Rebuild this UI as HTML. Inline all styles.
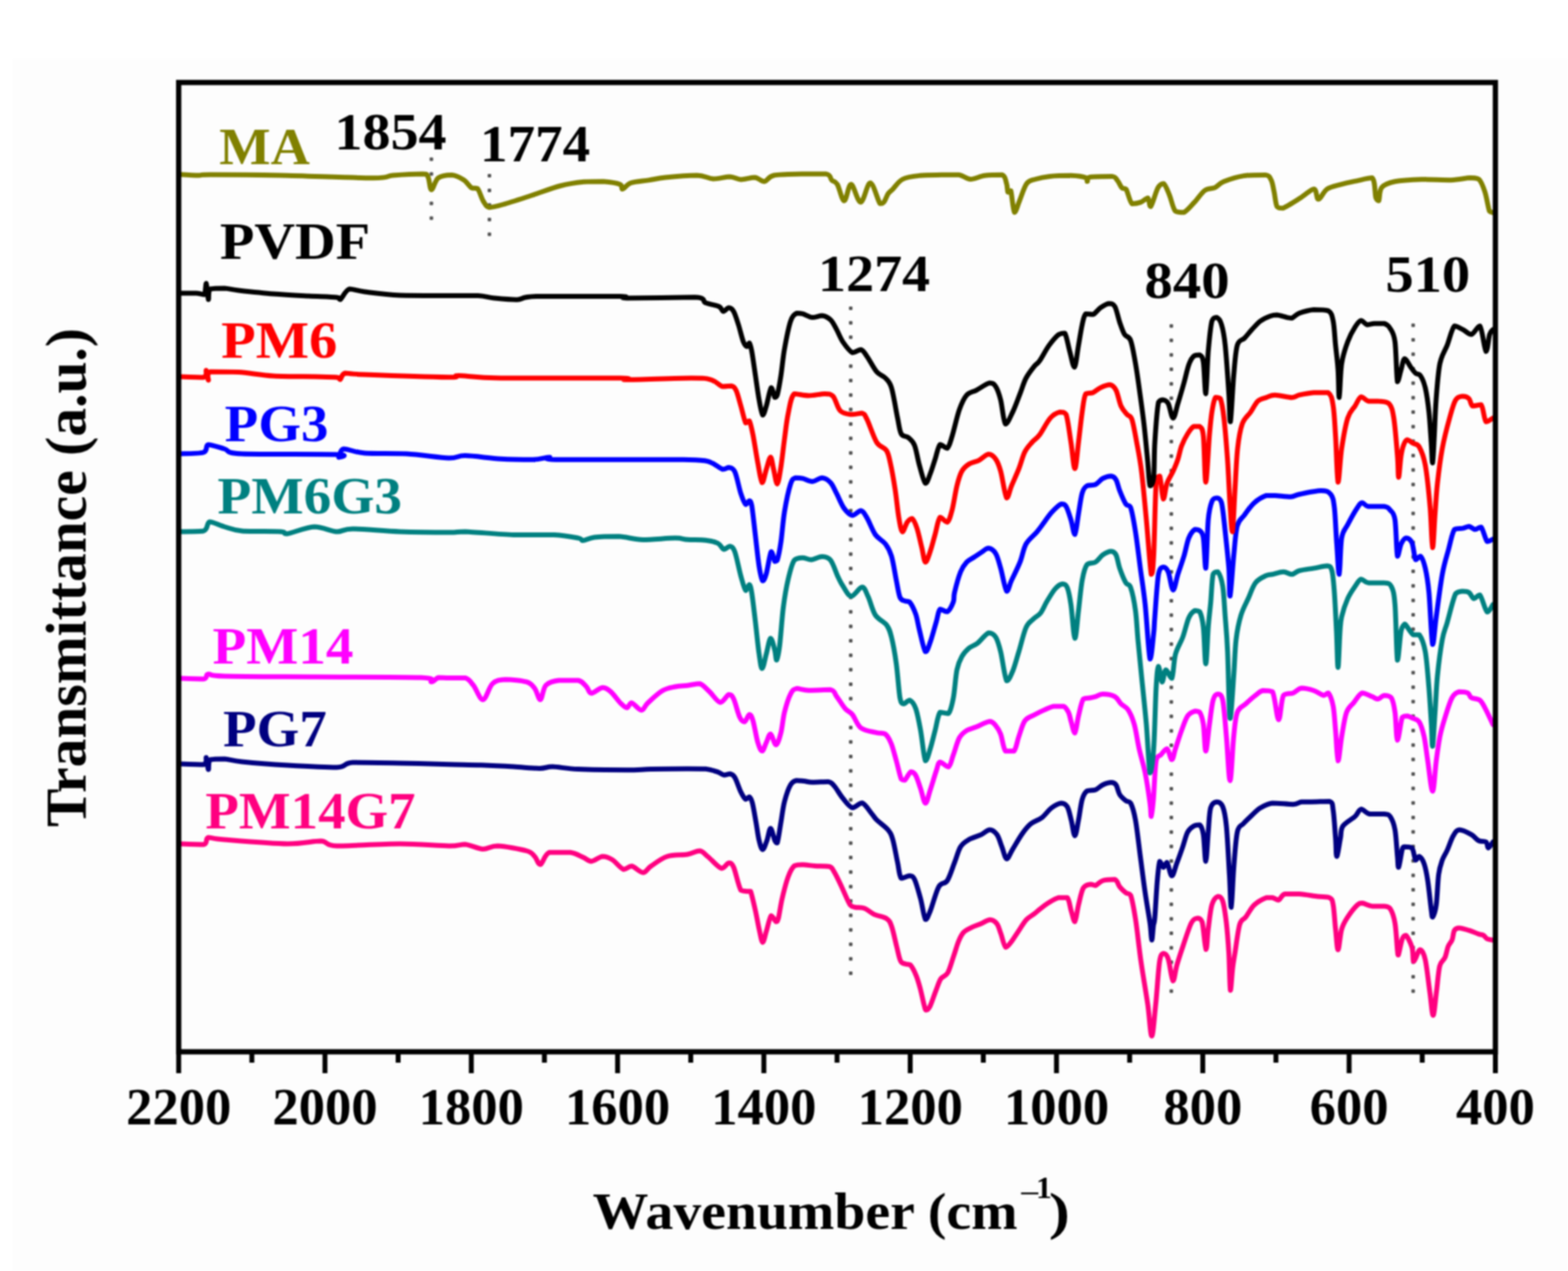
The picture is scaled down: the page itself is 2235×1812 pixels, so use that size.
<!DOCTYPE html>
<html><head><meta charset="utf-8"><style>
html,body{margin:0;padding:0;background:#ffffff;}
svg{display:block;}
#w{filter:blur(1px);width:2235px;height:1812px;}
.t{font-family:"Liberation Serif","Times New Roman",serif;font-weight:bold;font-size:75px;}
.l{font-family:"Liberation Serif","Times New Roman",serif;font-weight:bold;font-size:80px;}
</style></head><body><div id="w">
<svg width="2235" height="1812" viewBox="0 0 2235 1812">
<rect width="2235" height="1812" fill="#fdfdfd"/>
<rect width="2235" height="84" fill="#ffffff"/>
<rect width="18" height="1812" fill="#ffffff"/>
<rect x="612.4" y="224.5" width="5" height="5" rx="1" fill="#505050"/>
<rect x="612.4" y="245.5" width="5" height="5" rx="1" fill="#505050"/>
<rect x="612.4" y="266.5" width="5" height="5" rx="1" fill="#505050"/>
<rect x="612.4" y="287.5" width="5" height="5" rx="1" fill="#505050"/>
<rect x="612.4" y="308.5" width="5" height="5" rx="1" fill="#505050"/>
<rect x="695.1" y="248.0" width="5" height="5" rx="1" fill="#505050"/>
<rect x="695.1" y="268.9" width="5" height="5" rx="1" fill="#505050"/>
<rect x="695.1" y="289.8" width="5" height="5" rx="1" fill="#505050"/>
<rect x="695.1" y="310.6" width="5" height="5" rx="1" fill="#505050"/>
<rect x="695.1" y="331.5" width="5" height="5" rx="1" fill="#505050"/>
<rect x="1210.1" y="437.1" width="5" height="5" rx="1" fill="#505050"/>
<rect x="1210.1" y="457.7" width="5" height="5" rx="1" fill="#505050"/>
<rect x="1210.1" y="478.3" width="5" height="5" rx="1" fill="#505050"/>
<rect x="1210.1" y="498.9" width="5" height="5" rx="1" fill="#505050"/>
<rect x="1210.1" y="519.5" width="5" height="5" rx="1" fill="#505050"/>
<rect x="1210.1" y="540.1" width="5" height="5" rx="1" fill="#505050"/>
<rect x="1210.1" y="560.7" width="5" height="5" rx="1" fill="#505050"/>
<rect x="1210.1" y="581.3" width="5" height="5" rx="1" fill="#505050"/>
<rect x="1210.1" y="602.0" width="5" height="5" rx="1" fill="#505050"/>
<rect x="1210.1" y="622.6" width="5" height="5" rx="1" fill="#505050"/>
<rect x="1210.1" y="643.2" width="5" height="5" rx="1" fill="#505050"/>
<rect x="1210.1" y="663.8" width="5" height="5" rx="1" fill="#505050"/>
<rect x="1210.1" y="684.4" width="5" height="5" rx="1" fill="#505050"/>
<rect x="1210.1" y="705.0" width="5" height="5" rx="1" fill="#505050"/>
<rect x="1210.1" y="725.6" width="5" height="5" rx="1" fill="#505050"/>
<rect x="1210.1" y="746.2" width="5" height="5" rx="1" fill="#505050"/>
<rect x="1210.1" y="766.8" width="5" height="5" rx="1" fill="#505050"/>
<rect x="1210.1" y="787.4" width="5" height="5" rx="1" fill="#505050"/>
<rect x="1210.1" y="808.0" width="5" height="5" rx="1" fill="#505050"/>
<rect x="1210.1" y="828.6" width="5" height="5" rx="1" fill="#505050"/>
<rect x="1210.1" y="849.2" width="5" height="5" rx="1" fill="#505050"/>
<rect x="1210.1" y="869.8" width="5" height="5" rx="1" fill="#505050"/>
<rect x="1210.1" y="890.4" width="5" height="5" rx="1" fill="#505050"/>
<rect x="1210.1" y="911.1" width="5" height="5" rx="1" fill="#505050"/>
<rect x="1210.1" y="931.7" width="5" height="5" rx="1" fill="#505050"/>
<rect x="1210.1" y="952.3" width="5" height="5" rx="1" fill="#505050"/>
<rect x="1210.1" y="972.9" width="5" height="5" rx="1" fill="#505050"/>
<rect x="1210.1" y="993.5" width="5" height="5" rx="1" fill="#505050"/>
<rect x="1210.1" y="1014.1" width="5" height="5" rx="1" fill="#505050"/>
<rect x="1210.1" y="1034.7" width="5" height="5" rx="1" fill="#505050"/>
<rect x="1210.1" y="1055.3" width="5" height="5" rx="1" fill="#505050"/>
<rect x="1210.1" y="1075.9" width="5" height="5" rx="1" fill="#505050"/>
<rect x="1210.1" y="1096.5" width="5" height="5" rx="1" fill="#505050"/>
<rect x="1210.1" y="1117.1" width="5" height="5" rx="1" fill="#505050"/>
<rect x="1210.1" y="1137.7" width="5" height="5" rx="1" fill="#505050"/>
<rect x="1210.1" y="1158.3" width="5" height="5" rx="1" fill="#505050"/>
<rect x="1210.1" y="1178.9" width="5" height="5" rx="1" fill="#505050"/>
<rect x="1210.1" y="1199.5" width="5" height="5" rx="1" fill="#505050"/>
<rect x="1210.1" y="1220.1" width="5" height="5" rx="1" fill="#505050"/>
<rect x="1210.1" y="1240.8" width="5" height="5" rx="1" fill="#505050"/>
<rect x="1210.1" y="1261.4" width="5" height="5" rx="1" fill="#505050"/>
<rect x="1210.1" y="1282.0" width="5" height="5" rx="1" fill="#505050"/>
<rect x="1210.1" y="1302.6" width="5" height="5" rx="1" fill="#505050"/>
<rect x="1210.1" y="1323.2" width="5" height="5" rx="1" fill="#505050"/>
<rect x="1210.1" y="1343.8" width="5" height="5" rx="1" fill="#505050"/>
<rect x="1210.1" y="1364.4" width="5" height="5" rx="1" fill="#505050"/>
<rect x="1210.1" y="1385.0" width="5" height="5" rx="1" fill="#505050"/>
<rect x="1667.1" y="462.2" width="5" height="5" rx="1" fill="#505050"/>
<rect x="1667.1" y="482.8" width="5" height="5" rx="1" fill="#505050"/>
<rect x="1667.1" y="503.4" width="5" height="5" rx="1" fill="#505050"/>
<rect x="1667.1" y="524.0" width="5" height="5" rx="1" fill="#505050"/>
<rect x="1667.1" y="544.7" width="5" height="5" rx="1" fill="#505050"/>
<rect x="1667.1" y="565.3" width="5" height="5" rx="1" fill="#505050"/>
<rect x="1667.1" y="585.9" width="5" height="5" rx="1" fill="#505050"/>
<rect x="1667.1" y="606.5" width="5" height="5" rx="1" fill="#505050"/>
<rect x="1667.1" y="627.1" width="5" height="5" rx="1" fill="#505050"/>
<rect x="1667.1" y="647.7" width="5" height="5" rx="1" fill="#505050"/>
<rect x="1667.1" y="668.4" width="5" height="5" rx="1" fill="#505050"/>
<rect x="1667.1" y="689.0" width="5" height="5" rx="1" fill="#505050"/>
<rect x="1667.1" y="709.6" width="5" height="5" rx="1" fill="#505050"/>
<rect x="1667.1" y="730.2" width="5" height="5" rx="1" fill="#505050"/>
<rect x="1667.1" y="750.8" width="5" height="5" rx="1" fill="#505050"/>
<rect x="1667.1" y="771.4" width="5" height="5" rx="1" fill="#505050"/>
<rect x="1667.1" y="792.0" width="5" height="5" rx="1" fill="#505050"/>
<rect x="1667.1" y="812.7" width="5" height="5" rx="1" fill="#505050"/>
<rect x="1667.1" y="833.3" width="5" height="5" rx="1" fill="#505050"/>
<rect x="1667.1" y="853.9" width="5" height="5" rx="1" fill="#505050"/>
<rect x="1667.1" y="874.5" width="5" height="5" rx="1" fill="#505050"/>
<rect x="1667.1" y="895.1" width="5" height="5" rx="1" fill="#505050"/>
<rect x="1667.1" y="915.7" width="5" height="5" rx="1" fill="#505050"/>
<rect x="1667.1" y="936.4" width="5" height="5" rx="1" fill="#505050"/>
<rect x="1667.1" y="957.0" width="5" height="5" rx="1" fill="#505050"/>
<rect x="1667.1" y="977.6" width="5" height="5" rx="1" fill="#505050"/>
<rect x="1667.1" y="998.2" width="5" height="5" rx="1" fill="#505050"/>
<rect x="1667.1" y="1018.8" width="5" height="5" rx="1" fill="#505050"/>
<rect x="1667.1" y="1039.4" width="5" height="5" rx="1" fill="#505050"/>
<rect x="1667.1" y="1060.0" width="5" height="5" rx="1" fill="#505050"/>
<rect x="1667.1" y="1080.7" width="5" height="5" rx="1" fill="#505050"/>
<rect x="1667.1" y="1101.3" width="5" height="5" rx="1" fill="#505050"/>
<rect x="1667.1" y="1121.9" width="5" height="5" rx="1" fill="#505050"/>
<rect x="1667.1" y="1142.5" width="5" height="5" rx="1" fill="#505050"/>
<rect x="1667.1" y="1163.1" width="5" height="5" rx="1" fill="#505050"/>
<rect x="1667.1" y="1183.7" width="5" height="5" rx="1" fill="#505050"/>
<rect x="1667.1" y="1204.3" width="5" height="5" rx="1" fill="#505050"/>
<rect x="1667.1" y="1225.0" width="5" height="5" rx="1" fill="#505050"/>
<rect x="1667.1" y="1245.6" width="5" height="5" rx="1" fill="#505050"/>
<rect x="1667.1" y="1266.2" width="5" height="5" rx="1" fill="#505050"/>
<rect x="1667.1" y="1286.8" width="5" height="5" rx="1" fill="#505050"/>
<rect x="1667.1" y="1307.4" width="5" height="5" rx="1" fill="#505050"/>
<rect x="1667.1" y="1328.0" width="5" height="5" rx="1" fill="#505050"/>
<rect x="1667.1" y="1348.7" width="5" height="5" rx="1" fill="#505050"/>
<rect x="1667.1" y="1369.3" width="5" height="5" rx="1" fill="#505050"/>
<rect x="1667.1" y="1389.9" width="5" height="5" rx="1" fill="#505050"/>
<rect x="1667.1" y="1410.5" width="5" height="5" rx="1" fill="#505050"/>
<rect x="2011.8" y="461.3" width="5" height="5" rx="1" fill="#505050"/>
<rect x="2011.8" y="481.9" width="5" height="5" rx="1" fill="#505050"/>
<rect x="2011.8" y="502.6" width="5" height="5" rx="1" fill="#505050"/>
<rect x="2011.8" y="523.2" width="5" height="5" rx="1" fill="#505050"/>
<rect x="2011.8" y="543.8" width="5" height="5" rx="1" fill="#505050"/>
<rect x="2011.8" y="564.5" width="5" height="5" rx="1" fill="#505050"/>
<rect x="2011.8" y="585.1" width="5" height="5" rx="1" fill="#505050"/>
<rect x="2011.8" y="605.7" width="5" height="5" rx="1" fill="#505050"/>
<rect x="2011.8" y="626.4" width="5" height="5" rx="1" fill="#505050"/>
<rect x="2011.8" y="647.0" width="5" height="5" rx="1" fill="#505050"/>
<rect x="2011.8" y="667.6" width="5" height="5" rx="1" fill="#505050"/>
<rect x="2011.8" y="688.3" width="5" height="5" rx="1" fill="#505050"/>
<rect x="2011.8" y="708.9" width="5" height="5" rx="1" fill="#505050"/>
<rect x="2011.8" y="729.6" width="5" height="5" rx="1" fill="#505050"/>
<rect x="2011.8" y="750.2" width="5" height="5" rx="1" fill="#505050"/>
<rect x="2011.8" y="770.8" width="5" height="5" rx="1" fill="#505050"/>
<rect x="2011.8" y="791.5" width="5" height="5" rx="1" fill="#505050"/>
<rect x="2011.8" y="812.1" width="5" height="5" rx="1" fill="#505050"/>
<rect x="2011.8" y="832.7" width="5" height="5" rx="1" fill="#505050"/>
<rect x="2011.8" y="853.4" width="5" height="5" rx="1" fill="#505050"/>
<rect x="2011.8" y="874.0" width="5" height="5" rx="1" fill="#505050"/>
<rect x="2011.8" y="894.6" width="5" height="5" rx="1" fill="#505050"/>
<rect x="2011.8" y="915.3" width="5" height="5" rx="1" fill="#505050"/>
<rect x="2011.8" y="935.9" width="5" height="5" rx="1" fill="#505050"/>
<rect x="2011.8" y="956.5" width="5" height="5" rx="1" fill="#505050"/>
<rect x="2011.8" y="977.2" width="5" height="5" rx="1" fill="#505050"/>
<rect x="2011.8" y="997.8" width="5" height="5" rx="1" fill="#505050"/>
<rect x="2011.8" y="1018.4" width="5" height="5" rx="1" fill="#505050"/>
<rect x="2011.8" y="1039.1" width="5" height="5" rx="1" fill="#505050"/>
<rect x="2011.8" y="1059.7" width="5" height="5" rx="1" fill="#505050"/>
<rect x="2011.8" y="1080.3" width="5" height="5" rx="1" fill="#505050"/>
<rect x="2011.8" y="1101.0" width="5" height="5" rx="1" fill="#505050"/>
<rect x="2011.8" y="1121.6" width="5" height="5" rx="1" fill="#505050"/>
<rect x="2011.8" y="1142.2" width="5" height="5" rx="1" fill="#505050"/>
<rect x="2011.8" y="1162.9" width="5" height="5" rx="1" fill="#505050"/>
<rect x="2011.8" y="1183.5" width="5" height="5" rx="1" fill="#505050"/>
<rect x="2011.8" y="1204.2" width="5" height="5" rx="1" fill="#505050"/>
<rect x="2011.8" y="1224.8" width="5" height="5" rx="1" fill="#505050"/>
<rect x="2011.8" y="1245.4" width="5" height="5" rx="1" fill="#505050"/>
<rect x="2011.8" y="1266.1" width="5" height="5" rx="1" fill="#505050"/>
<rect x="2011.8" y="1286.7" width="5" height="5" rx="1" fill="#505050"/>
<rect x="2011.8" y="1307.3" width="5" height="5" rx="1" fill="#505050"/>
<rect x="2011.8" y="1328.0" width="5" height="5" rx="1" fill="#505050"/>
<rect x="2011.8" y="1348.6" width="5" height="5" rx="1" fill="#505050"/>
<rect x="2011.8" y="1369.2" width="5" height="5" rx="1" fill="#505050"/>
<rect x="2011.8" y="1389.9" width="5" height="5" rx="1" fill="#505050"/>
<rect x="2011.8" y="1410.5" width="5" height="5" rx="1" fill="#505050"/>
<path d="M255.0,1203.0C260.8,1203.2 283.0,1204.0 290.0,1204.0C297.0,1202.5 292.0,1195.2 297.0,1194.0C302.0,1194.0 301.2,1195.5 320.0,1197.0C338.8,1198.5 387.2,1202.7 410.0,1203.0C432.8,1203.0 445.3,1199.0 457.0,1199.0C468.7,1199.5 461.2,1205.3 480.0,1206.0C498.8,1206.0 543.3,1203.0 570.0,1203.0C596.7,1203.0 624.5,1205.9 640.0,1206.0C655.5,1206.0 654.9,1203.7 663.0,1203.7C671.1,1204.5 680.7,1210.2 688.4,1210.6C696.1,1210.6 698.7,1206.0 709.1,1206.0C719.5,1206.4 741.8,1210.5 750.6,1213.0C759.4,1215.5 758.8,1217.8 762.1,1221.0C765.4,1224.2 766.7,1232.5 770.2,1232.5C773.7,1231.5 775.8,1218.2 782.9,1215.3C790.0,1215.3 804.8,1215.3 812.8,1215.3C820.8,1216.5 826.2,1220.1 831.2,1222.2C836.2,1224.3 838.2,1228.0 842.8,1228.0C847.4,1227.8 853.9,1221.4 858.9,1221.0C863.9,1221.0 867.7,1222.5 872.7,1225.6C877.7,1228.7 884.2,1237.9 888.8,1239.4C893.4,1239.4 895.8,1234.8 900.4,1234.8C905.0,1235.6 911.9,1244.0 916.5,1244.0C921.1,1244.0 922.2,1238.6 928.0,1234.8C933.8,1231.0 942.3,1223.8 951.0,1221.0C959.7,1218.2 972.3,1219.3 980.0,1218.0C987.7,1216.7 992.4,1213.0 997.3,1213.0C1002.2,1213.6 1004.2,1217.4 1009.4,1221.6C1014.6,1225.8 1023.5,1236.6 1028.4,1238.0C1033.3,1238.0 1035.9,1230.5 1038.8,1230.2C1041.7,1230.2 1042.8,1230.2 1045.7,1236.3C1048.6,1242.8 1052.5,1263.3 1056.0,1269.1C1059.5,1270.8 1064.1,1270.5 1066.4,1270.8C1068.7,1270.8 1068.2,1270.8 1069.9,1270.8C1071.6,1275.4 1074.8,1289.6 1076.8,1298.5C1078.8,1307.4 1080.3,1316.9 1082.0,1324.4C1083.7,1331.9 1085.4,1342.8 1087.1,1343.4C1088.8,1343.4 1090.3,1334.1 1092.3,1327.8C1094.3,1321.5 1096.9,1307.7 1099.2,1305.4C1101.5,1305.4 1104.4,1313.4 1106.1,1314.0C1107.8,1314.0 1108.1,1314.0 1109.6,1308.8C1111.0,1303.3 1112.5,1291.0 1114.8,1281.2C1117.1,1271.4 1120.5,1257.9 1123.4,1250.1C1126.3,1242.3 1128.6,1237.4 1132.1,1234.5C1135.6,1232.8 1139.3,1232.8 1144.2,1232.8C1149.1,1232.8 1155.1,1234.1 1161.4,1234.5C1167.7,1234.9 1177.6,1234.5 1182.2,1235.4C1186.8,1236.9 1186.2,1238.5 1189.1,1243.2C1192.0,1248.0 1195.8,1256.1 1199.5,1263.9C1203.2,1271.7 1208.4,1284.9 1211.6,1289.8C1214.8,1293.3 1215.0,1292.4 1218.5,1293.3C1222.0,1294.2 1227.7,1293.3 1232.3,1295.0C1236.9,1296.7 1240.8,1301.1 1246.1,1303.6C1251.4,1306.1 1259.8,1306.9 1264.0,1309.8C1268.2,1312.7 1268.7,1314.5 1271.0,1321.0C1273.3,1327.5 1275.9,1340.8 1278.0,1349.0C1280.1,1357.2 1281.5,1365.8 1283.6,1370.0C1285.7,1374.2 1288.3,1373.3 1290.6,1374.3C1292.9,1375.2 1295.0,1374.3 1297.6,1375.7C1300.2,1378.5 1303.7,1385.5 1306.0,1391.1C1308.3,1396.7 1309.8,1402.3 1311.7,1409.3C1313.6,1416.3 1315.9,1428.0 1317.3,1433.1C1318.7,1438.2 1318.7,1439.9 1320.1,1440.1C1321.5,1440.1 1323.4,1439.2 1325.7,1434.5C1328.0,1429.8 1331.5,1418.6 1334.1,1412.1C1336.7,1405.6 1338.3,1399.5 1341.1,1395.3C1343.9,1391.1 1347.9,1392.3 1350.9,1386.9C1353.9,1381.5 1356.7,1370.6 1359.3,1363.1C1361.9,1355.6 1364.0,1347.6 1366.3,1342.0C1368.6,1336.4 1370.3,1332.7 1373.3,1329.4C1376.3,1326.1 1380.3,1324.5 1384.5,1322.4C1388.7,1320.3 1394.1,1318.7 1398.5,1316.8C1402.9,1314.9 1407.4,1311.2 1411.1,1311.2C1414.8,1311.2 1418.3,1313.5 1420.9,1316.8C1423.5,1320.1 1424.4,1325.2 1426.5,1330.8C1428.6,1336.4 1430.9,1348.5 1433.5,1350.4C1436.1,1350.4 1439.2,1345.5 1442.0,1342.0C1444.8,1338.5 1446.9,1334.5 1450.4,1329.4C1453.9,1324.3 1459.0,1315.6 1463.0,1311.2C1467.0,1306.8 1470.8,1305.5 1474.2,1302.8C1477.6,1300.1 1479.8,1298.0 1483.3,1295.3C1486.8,1292.6 1491.1,1289.2 1495.4,1286.6C1499.7,1284.0 1504.9,1280.8 1509.2,1279.7C1513.5,1279.7 1518.3,1279.7 1521.3,1279.7C1524.2,1282.9 1525.1,1293.0 1526.9,1298.7C1528.7,1304.4 1530.4,1314.0 1532.1,1314.0C1533.8,1312.6 1535.3,1298.1 1537.3,1290.1C1539.3,1282.1 1541.3,1270.8 1544.2,1265.9C1547.1,1261.0 1551.7,1261.3 1554.6,1260.7C1557.5,1260.7 1558.6,1262.4 1561.5,1262.4C1564.4,1261.5 1567.2,1256.9 1571.8,1255.5C1576.4,1254.1 1585.1,1253.8 1589.1,1253.8C1593.1,1255.2 1593.4,1261.0 1596.0,1264.2C1598.6,1267.4 1602.1,1270.8 1604.7,1272.8C1607.3,1274.8 1609.3,1272.8 1611.6,1276.3C1613.9,1282.5 1616.5,1297.6 1618.5,1310.0C1620.5,1322.4 1622.3,1339.6 1623.7,1350.6C1625.1,1361.6 1625.0,1362.4 1627.1,1376.0C1629.1,1389.6 1633.6,1415.3 1636.0,1432.1C1638.4,1448.9 1639.8,1477.0 1641.7,1477.0C1643.6,1477.0 1645.4,1449.9 1647.3,1432.1C1649.2,1414.3 1651.0,1382.6 1652.9,1370.4C1654.8,1359.2 1656.5,1359.8 1658.5,1359.2C1660.5,1359.2 1663.0,1360.5 1665.2,1367.1C1667.4,1373.6 1669.9,1397.0 1671.9,1398.5C1674.0,1398.5 1675.1,1384.4 1677.5,1376.0C1679.9,1367.6 1683.1,1358.0 1686.5,1348.0C1689.9,1338.0 1694.7,1322.5 1698.0,1316.0C1701.3,1309.5 1704.0,1309.4 1706.6,1309.1C1709.2,1309.1 1711.4,1309.1 1713.5,1314.3C1715.6,1321.7 1717.5,1351.9 1719.0,1353.6C1720.5,1353.6 1720.8,1335.2 1722.2,1324.6C1723.6,1314.0 1725.1,1297.9 1727.4,1290.1C1729.7,1282.3 1733.4,1278.9 1736.0,1278.0C1738.6,1278.0 1740.9,1278.6 1742.9,1284.9C1744.9,1291.2 1746.6,1303.6 1748.1,1316.0C1749.5,1328.4 1750.6,1343.2 1751.6,1359.2C1752.5,1375.2 1752.9,1408.4 1753.8,1411.9C1754.7,1411.9 1755.9,1388.8 1757.0,1380.0C1758.1,1371.2 1758.5,1369.6 1760.2,1359.2C1761.9,1348.8 1764.5,1326.3 1767.1,1317.7C1769.7,1309.1 1772.2,1312.0 1775.7,1307.4C1779.2,1302.8 1782.9,1294.7 1787.8,1290.1C1792.7,1285.5 1800.8,1281.4 1805.1,1279.7C1809.4,1279.7 1810.9,1279.7 1813.8,1279.8C1816.7,1280.4 1819.6,1283.2 1822.5,1283.2C1825.4,1282.3 1826.2,1276.0 1831.1,1274.6C1836.0,1274.6 1844.1,1274.6 1851.9,1274.6C1859.7,1275.2 1870.6,1277.1 1877.8,1278.0C1885.0,1278.9 1891.3,1278.0 1895.1,1279.8C1898.8,1281.8 1898.9,1282.6 1900.3,1290.1C1901.7,1297.6 1902.5,1314.0 1903.7,1324.7C1904.9,1335.4 1905.8,1354.1 1907.2,1354.1C1908.7,1354.1 1910.1,1332.5 1912.4,1324.7C1914.7,1316.9 1917.3,1313.2 1921.0,1307.4C1924.7,1301.6 1931.3,1293.4 1934.8,1290.1C1938.2,1287.6 1938.2,1287.6 1941.7,1287.6C1945.2,1287.9 1950.4,1291.2 1955.6,1291.9C1960.8,1291.9 1968.6,1291.9 1972.9,1291.9C1977.2,1292.5 1978.9,1291.9 1981.5,1295.3C1984.1,1299.3 1986.7,1306.1 1988.4,1316.1C1990.1,1326.0 1991.1,1347.4 1991.9,1355.0C1992.7,1361.5 1992.1,1361.5 1993.2,1361.5C1994.3,1358.8 1997.0,1343.2 1998.8,1338.5C2000.6,1333.8 2001.7,1333.4 2004.0,1333.4C2006.3,1335.4 2010.8,1344.4 2012.6,1350.6C2014.4,1356.8 2013.8,1368.2 2014.7,1370.8C2015.6,1370.8 2016.2,1369.0 2017.8,1366.2C2019.4,1363.4 2021.8,1354.0 2024.1,1354.0C2026.4,1354.3 2029.2,1357.9 2031.5,1368.0C2033.8,1378.1 2036.2,1401.5 2038.1,1414.7C2040.0,1427.9 2041.2,1447.4 2042.8,1447.4C2044.3,1447.4 2045.9,1426.4 2047.4,1414.7C2049.0,1403.0 2050.1,1385.7 2052.1,1377.4C2054.1,1369.2 2057.6,1369.9 2059.6,1365.2C2061.6,1360.5 2062.5,1353.5 2064.2,1349.3C2065.9,1345.1 2068.3,1343.8 2069.8,1340.0C2071.3,1336.2 2071.4,1329.2 2073.1,1326.4C2074.8,1323.6 2076.5,1323.0 2080.0,1323.0C2083.5,1323.0 2089.3,1325.0 2093.9,1326.4C2098.5,1327.8 2104.2,1330.4 2107.7,1331.6C2111.1,1332.8 2112.6,1332.2 2114.6,1333.4C2116.6,1334.6 2117.6,1337.3 2119.8,1338.5C2122.0,1339.7 2126.6,1340.0 2128.0,1340.3" fill="none" stroke="#ff0080" stroke-width="7" stroke-linejoin="round" stroke-linecap="round"/>
<path d="M255.0,1089.0C260.8,1089.2 283.5,1090.0 290.0,1090.0C296.5,1088.5 292.8,1080.0 294.0,1080.0C295.2,1081.2 296.0,1096.5 297.0,1097.0C298.0,1097.0 296.2,1085.5 300.0,1083.0C303.8,1082.0 312.5,1082.0 320.0,1082.0C327.5,1082.5 330.0,1084.5 345.0,1086.0C360.0,1087.5 387.5,1089.7 410.0,1091.0C432.5,1092.3 464.5,1094.0 480.0,1094.0C495.5,1093.3 488.0,1088.0 503.0,1087.0C518.0,1087.0 547.2,1087.5 570.0,1088.0C592.8,1088.5 620.6,1089.2 640.0,1089.7C659.4,1090.2 670.7,1090.2 686.1,1090.8C701.5,1091.4 718.4,1092.3 732.2,1093.1C746.0,1093.9 759.8,1095.4 769.0,1095.4C778.2,1095.4 778.3,1093.1 787.5,1093.1C796.7,1093.3 806.6,1095.8 824.3,1096.6C842.0,1097.4 876.2,1097.7 893.5,1097.7C910.8,1097.7 913.6,1096.9 928.0,1096.6C942.4,1096.3 967.0,1096.0 980.0,1096.0C993.0,1096.0 998.7,1096.0 1005.9,1096.3C1013.1,1097.1 1018.9,1099.2 1023.2,1100.6C1027.5,1102.0 1028.9,1104.5 1031.8,1104.9C1034.7,1104.9 1037.9,1103.2 1040.5,1103.2C1043.1,1103.8 1044.8,1104.1 1047.4,1108.4C1050.0,1112.7 1053.4,1123.9 1056.0,1129.1C1058.6,1134.3 1060.9,1138.3 1062.9,1139.5C1064.9,1139.5 1066.5,1136.0 1068.1,1136.0C1069.7,1136.9 1070.8,1138.7 1072.4,1144.7C1074.0,1150.8 1076.0,1163.4 1077.6,1172.3C1079.2,1181.2 1080.4,1191.7 1082.0,1198.2C1083.6,1204.7 1085.2,1211.2 1087.1,1211.2C1089.0,1211.2 1091.3,1203.2 1093.2,1198.2C1095.1,1193.2 1096.5,1181.0 1098.4,1181.0C1100.3,1181.0 1102.8,1194.8 1104.4,1198.2C1106.0,1201.7 1106.5,1201.7 1107.9,1201.7C1109.4,1197.4 1111.4,1182.1 1113.1,1172.3C1114.8,1162.5 1115.9,1151.8 1118.2,1142.9C1120.5,1134.0 1124.0,1123.8 1126.9,1118.8C1129.8,1113.8 1132.3,1113.6 1135.5,1112.7C1138.7,1112.7 1142.2,1113.2 1145.9,1113.6C1149.7,1114.0 1152.2,1115.2 1158.0,1115.3C1163.8,1115.3 1175.2,1114.4 1180.4,1114.4C1185.6,1115.3 1185.6,1116.6 1189.1,1120.5C1192.6,1124.4 1196.9,1132.6 1201.2,1137.8C1205.5,1143.0 1210.4,1150.4 1215.0,1151.6C1219.6,1151.6 1224.2,1144.7 1228.8,1144.7C1233.4,1146.1 1239.2,1156.2 1242.7,1160.2C1246.2,1164.2 1245.8,1165.1 1249.6,1168.9C1253.4,1172.7 1261.8,1178.2 1265.6,1182.9C1269.4,1187.6 1270.2,1189.0 1272.5,1196.8C1274.8,1204.6 1277.4,1220.4 1279.4,1229.6C1281.4,1238.8 1281.7,1248.9 1284.6,1252.1C1287.5,1252.1 1293.5,1248.6 1296.7,1248.6C1299.9,1248.9 1301.0,1248.6 1303.6,1253.8C1306.2,1259.3 1309.6,1271.9 1312.2,1281.4C1314.8,1290.9 1316.8,1307.9 1319.1,1310.8C1321.4,1310.8 1322.8,1306.5 1326.0,1298.7C1329.2,1290.9 1334.1,1271.4 1338.1,1264.2C1342.1,1257.0 1346.5,1261.3 1350.2,1255.5C1354.0,1249.7 1357.4,1237.7 1360.6,1229.6C1363.8,1221.5 1365.8,1212.6 1369.2,1207.1C1372.7,1201.6 1376.4,1199.7 1381.3,1196.8C1386.2,1193.9 1393.7,1192.2 1398.6,1189.9C1403.5,1187.6 1407.0,1182.9 1410.7,1182.9C1414.5,1182.9 1418.2,1185.9 1421.1,1189.9C1424.0,1193.9 1425.7,1201.3 1428.0,1207.1C1430.3,1212.8 1432.3,1223.8 1434.9,1224.4C1437.5,1224.4 1439.8,1216.6 1443.5,1210.6C1447.2,1204.5 1453.1,1194.1 1457.4,1188.1C1461.7,1182.0 1464.9,1178.0 1469.5,1174.3C1474.1,1170.6 1480.1,1169.5 1485.0,1165.7C1489.9,1162.0 1494.2,1155.3 1498.8,1151.8C1503.4,1148.3 1509.0,1145.2 1512.7,1144.9C1516.5,1144.9 1518.9,1146.1 1521.3,1150.1C1523.7,1154.1 1525.1,1162.2 1526.9,1169.1C1528.7,1176.0 1530.4,1191.6 1532.1,1191.6C1533.8,1191.6 1535.6,1177.8 1537.3,1169.1C1539.0,1160.4 1540.5,1146.6 1542.5,1139.7C1544.5,1132.8 1546.2,1129.9 1549.4,1127.6C1552.6,1125.9 1557.8,1127.3 1561.5,1125.9C1565.2,1124.5 1568.1,1120.7 1571.8,1119.0C1575.5,1117.3 1580.7,1115.6 1583.9,1115.6C1587.1,1115.6 1588.8,1116.1 1590.8,1119.0C1592.8,1121.9 1593.7,1129.0 1596.0,1132.8C1598.3,1136.5 1602.1,1139.5 1604.7,1141.5C1607.3,1143.5 1609.3,1141.5 1611.6,1144.9C1613.9,1149.5 1616.2,1156.4 1618.5,1169.1C1620.8,1181.8 1623.1,1203.7 1625.4,1221.0C1627.7,1238.3 1630.0,1257.0 1632.3,1272.8C1634.6,1288.6 1637.6,1304.8 1639.2,1316.0C1640.8,1327.2 1640.9,1339.3 1641.7,1340.0C1642.5,1340.0 1643.3,1325.4 1644.0,1320.0C1644.7,1314.6 1645.2,1318.2 1646.1,1307.4C1647.0,1296.7 1648.4,1268.8 1649.6,1255.5C1650.8,1242.2 1651.7,1231.1 1653.1,1227.9C1654.5,1227.9 1656.5,1236.2 1658.2,1236.5C1659.9,1236.5 1661.4,1229.6 1663.4,1229.6C1665.4,1231.6 1668.0,1248.3 1670.3,1248.6C1672.6,1248.6 1674.6,1238.2 1677.2,1231.3C1679.8,1224.4 1683.3,1214.6 1685.9,1207.1C1688.5,1199.6 1690.2,1191.3 1692.8,1186.4C1695.4,1181.5 1698.5,1179.5 1701.4,1177.8C1704.3,1176.1 1707.8,1176.0 1710.1,1176.0C1712.4,1178.0 1713.9,1181.2 1715.3,1189.9C1716.7,1198.6 1717.5,1227.9 1718.7,1227.9C1719.9,1227.3 1721.1,1199.1 1722.2,1186.4C1723.3,1173.7 1723.6,1159.0 1725.6,1151.8C1727.6,1144.6 1731.4,1143.5 1734.3,1143.2C1737.2,1143.2 1740.6,1144.3 1742.9,1150.1C1745.2,1155.9 1746.5,1161.7 1748.1,1177.8C1749.7,1193.9 1751.2,1227.6 1752.4,1246.9C1753.6,1266.2 1754.0,1293.5 1755.0,1293.5C1756.0,1292.0 1757.1,1256.0 1758.5,1238.2C1759.9,1220.4 1761.3,1197.1 1763.6,1186.4C1765.9,1175.8 1769.1,1178.0 1772.3,1174.3C1775.5,1170.5 1778.7,1167.7 1782.7,1163.9C1786.7,1160.2 1791.3,1155.0 1796.5,1151.8C1801.7,1148.6 1806.0,1145.8 1813.8,1144.9C1821.6,1144.9 1836.3,1146.7 1843.2,1146.7C1850.1,1146.4 1851.0,1143.8 1855.3,1143.2C1859.6,1143.2 1862.5,1143.2 1869.1,1143.2C1875.7,1143.1 1889.9,1142.4 1895.1,1142.4C1900.3,1144.4 1898.9,1146.5 1900.3,1155.3C1901.7,1164.1 1902.8,1184.1 1903.7,1195.1C1904.6,1206.0 1904.2,1221.0 1905.4,1221.0C1906.6,1221.0 1909.1,1202.3 1910.6,1195.1C1912.0,1187.9 1910.6,1183.0 1914.1,1177.8C1917.6,1172.6 1927.1,1168.0 1931.4,1164.0C1935.7,1160.0 1936.5,1154.2 1940.0,1153.6C1943.5,1153.6 1946.6,1159.3 1952.1,1160.5C1957.6,1160.5 1968.0,1160.5 1972.9,1160.5C1977.8,1161.1 1978.9,1160.5 1981.5,1164.0C1984.1,1167.8 1986.7,1173.5 1988.4,1183.0C1990.1,1192.5 1991.0,1212.1 1991.9,1221.0C1992.8,1229.9 1992.4,1236.6 1993.6,1236.6C1994.8,1234.9 1997.4,1215.5 1998.8,1210.6C2000.2,1207.2 1999.9,1207.5 2002.2,1207.2C2004.5,1207.2 2010.0,1207.2 2012.6,1208.9C2015.2,1212.1 2016.1,1224.2 2017.8,1226.2C2019.5,1226.2 2021.0,1221.0 2023.0,1221.0C2025.0,1221.9 2027.9,1225.6 2029.9,1231.4C2031.9,1237.2 2033.4,1244.4 2035.1,1255.6C2036.8,1266.8 2039.1,1290.2 2040.3,1298.8C2041.5,1307.4 2040.8,1307.4 2042.0,1307.4C2043.2,1306.0 2045.8,1300.2 2047.2,1290.1C2048.6,1280.0 2049.2,1257.6 2050.6,1246.9C2052.0,1236.2 2053.8,1232.0 2055.8,1226.2C2057.8,1220.5 2060.1,1218.2 2062.7,1212.4C2065.3,1206.6 2068.5,1196.5 2071.4,1191.6C2074.3,1186.7 2075.7,1183.3 2080.0,1183.0C2084.3,1183.0 2092.7,1187.3 2097.3,1189.9C2101.9,1192.5 2104.2,1196.8 2107.7,1198.5C2111.2,1200.2 2115.8,1198.6 2118.1,1200.3C2120.4,1202.0 2119.8,1208.9 2121.5,1208.9C2123.2,1208.9 2126.9,1201.7 2128.0,1200.3" fill="none" stroke="#000080" stroke-width="7" stroke-linejoin="round" stroke-linecap="round"/>
<path d="M255.0,967.0C260.8,967.2 283.0,968.0 290.0,968.0C297.0,967.0 292.0,961.7 297.0,961.0C302.0,961.0 294.5,963.3 320.0,964.0C345.5,964.7 403.3,964.7 450.0,965.0C496.7,965.3 572.5,965.0 600.0,966.0C627.5,967.2 610.8,972.0 615.0,972.0C619.2,972.0 620.8,966.9 625.0,966.0C629.2,966.0 633.7,966.3 640.0,966.4C646.3,966.4 657.2,966.4 663.0,966.4C668.8,968.1 670.4,971.6 674.6,976.8C678.8,982.0 683.8,997.5 688.4,997.5C693.0,997.1 696.8,979.3 702.2,974.5C707.6,969.7 712.5,969.1 720.6,968.7C728.7,968.7 743.7,970.1 750.6,972.2C757.5,974.3 758.8,977.2 762.1,981.4C765.4,985.6 767.5,997.5 770.2,997.5C772.9,996.7 773.8,981.4 778.2,976.8C782.6,972.2 789.0,971.1 796.7,970.0C804.4,970.0 817.8,970.0 824.3,970.0C830.8,971.5 832.8,976.0 835.9,979.0C839.0,982.0 839.0,988.1 842.8,988.3C846.6,988.3 854.3,980.6 858.9,980.2C863.5,980.2 866.2,982.4 870.4,986.0C874.6,989.6 880.4,998.3 884.2,1002.1C888.1,1005.9 890.8,1009.0 893.5,1009.0C896.2,1009.0 896.9,1002.1 900.4,1002.1C903.9,1002.7 910.4,1012.5 914.2,1012.5C918.0,1012.5 918.4,1006.7 923.4,1002.1C928.4,997.5 937.6,988.6 944.1,984.8C950.6,980.9 956.6,980.3 962.6,979.0C968.6,977.7 974.2,977.9 980.0,977.2C985.8,976.5 992.1,974.7 997.3,974.7C1002.5,976.2 1006.2,981.5 1011.1,985.9C1016.0,990.3 1022.1,1000.7 1026.7,1001.4C1031.3,1001.4 1035.6,991.1 1038.8,990.2C1042.0,990.2 1043.1,991.0 1045.7,996.3C1048.3,1001.6 1051.7,1016.7 1054.3,1022.2C1056.9,1027.7 1058.9,1029.1 1061.2,1029.1C1063.5,1028.5 1066.1,1019.0 1068.1,1018.7C1070.1,1018.7 1071.3,1020.8 1073.3,1027.4C1075.3,1034.0 1078.0,1051.3 1080.2,1058.5C1082.4,1065.7 1084.3,1070.6 1086.3,1070.6C1088.3,1070.6 1090.3,1062.5 1092.3,1058.5C1094.3,1054.5 1096.1,1046.4 1098.4,1046.4C1100.7,1047.0 1103.6,1061.9 1106.1,1061.9C1108.5,1061.6 1111.1,1052.4 1113.1,1044.6C1115.1,1036.8 1115.9,1024.5 1118.2,1015.3C1120.5,1006.1 1124.0,994.9 1126.9,989.3C1129.8,983.7 1131.2,982.5 1135.5,981.6C1139.8,981.6 1144.7,983.9 1152.8,984.2C1160.9,984.2 1177.3,983.3 1183.9,983.3C1190.5,984.7 1189.0,988.3 1192.5,992.8C1196.0,997.3 1200.8,1005.8 1204.6,1010.1C1208.3,1014.4 1211.2,1014.1 1215.0,1018.7C1218.8,1023.3 1221.3,1033.4 1227.1,1037.7C1232.9,1042.0 1243.8,1043.1 1249.6,1044.6C1255.4,1046.0 1258.2,1044.6 1261.7,1046.4C1265.2,1049.0 1267.7,1053.6 1270.3,1060.0C1272.9,1066.4 1275.2,1076.2 1277.6,1084.6C1280.0,1093.0 1282.6,1106.0 1284.6,1110.6C1286.6,1112.3 1287.4,1112.3 1289.7,1112.3C1292.0,1110.6 1295.8,1101.3 1298.4,1100.2C1301.0,1100.2 1303.0,1101.4 1305.3,1105.4C1307.6,1109.4 1309.9,1117.8 1312.2,1124.4C1314.5,1131.0 1316.8,1144.7 1319.1,1145.0C1321.4,1145.0 1323.4,1133.8 1326.0,1126.1C1328.6,1118.3 1332.4,1105.1 1334.7,1098.5C1337.0,1091.9 1337.0,1087.3 1339.9,1086.4C1342.8,1086.4 1348.8,1093.3 1352.0,1093.3C1355.2,1091.6 1356.3,1082.9 1358.9,1076.0C1361.5,1069.1 1364.3,1057.6 1367.5,1051.8C1370.7,1046.0 1373.9,1044.0 1377.9,1041.4C1381.9,1038.8 1386.2,1038.5 1391.7,1036.3C1397.2,1034.1 1406.1,1028.8 1410.7,1028.5C1415.3,1028.5 1416.7,1031.5 1419.3,1034.5C1421.9,1037.5 1424.0,1040.5 1426.3,1046.6C1428.6,1052.6 1430.0,1066.8 1433.2,1070.8C1436.4,1070.8 1442.1,1070.8 1445.3,1070.8C1448.5,1067.3 1449.6,1057.3 1452.2,1050.1C1454.8,1042.9 1457.1,1032.8 1460.8,1027.6C1464.5,1022.4 1470.0,1021.6 1474.6,1019.0C1479.2,1016.4 1483.9,1014.1 1488.5,1012.1C1493.1,1010.1 1497.7,1007.8 1502.3,1006.9C1506.9,1006.9 1512.6,1006.9 1516.1,1006.9C1519.5,1008.3 1521.2,1011.8 1523.0,1015.5C1524.8,1019.2 1525.4,1024.4 1526.9,1029.3C1528.4,1034.2 1530.4,1045.0 1532.1,1045.0C1533.8,1043.6 1535.3,1028.8 1537.3,1020.7C1539.3,1012.6 1541.3,1000.8 1544.2,996.5C1547.1,994.8 1551.7,995.4 1554.6,994.8C1557.5,994.2 1558.6,994.0 1561.5,993.1C1564.4,992.2 1567.2,989.6 1571.8,989.6C1576.4,989.6 1584.8,990.8 1589.1,993.1C1593.4,995.4 1594.6,1000.2 1597.8,1003.4C1601.0,1006.6 1604.9,1007.2 1608.1,1012.1C1611.3,1017.0 1614.2,1023.6 1616.8,1032.8C1619.4,1042.0 1621.1,1055.9 1623.7,1067.4C1626.3,1078.9 1629.7,1089.0 1632.3,1101.9C1634.9,1114.9 1637.8,1134.8 1639.2,1145.1C1640.7,1155.4 1640.2,1164.0 1641.0,1164.0C1641.8,1163.2 1642.8,1153.2 1644.0,1140.0C1645.2,1126.8 1646.1,1095.3 1647.9,1084.6C1649.7,1076.0 1652.2,1078.9 1654.8,1076.0C1657.4,1073.1 1660.8,1067.4 1663.4,1067.4C1666.0,1068.6 1668.3,1082.9 1670.3,1082.9C1672.3,1082.9 1673.2,1074.3 1675.5,1067.4C1677.8,1060.5 1681.3,1049.2 1684.2,1041.4C1687.1,1033.6 1689.6,1025.3 1692.8,1020.7C1696.0,1016.1 1700.3,1014.7 1703.2,1013.8C1706.1,1013.8 1708.1,1013.8 1710.1,1015.5C1712.1,1018.7 1713.9,1023.6 1715.3,1032.8C1716.7,1042.0 1717.3,1070.8 1718.7,1070.8C1720.1,1070.8 1722.2,1044.9 1723.9,1032.8C1725.6,1020.7 1727.1,1005.4 1729.1,998.2C1731.1,991.0 1733.7,989.6 1736.0,989.6C1738.3,989.6 1740.9,989.6 1742.9,998.2C1744.9,1008.3 1746.4,1031.0 1748.1,1050.1C1749.8,1069.2 1751.6,1113.0 1753.3,1113.0C1755.0,1113.0 1756.8,1066.3 1758.5,1050.1C1760.2,1033.8 1760.7,1023.3 1763.6,1015.5C1766.5,1007.7 1771.4,1007.4 1775.7,1003.4C1780.0,999.4 1785.5,994.4 1789.6,991.3C1793.6,988.1 1796.0,985.4 1800.0,984.5C1804.0,984.5 1810.0,984.5 1813.8,986.2C1817.5,993.1 1819.9,1025.1 1822.5,1026.0C1825.1,1026.0 1826.0,997.8 1829.4,991.4C1832.9,987.9 1838.9,989.6 1843.2,987.9C1847.5,986.2 1850.4,981.6 1855.3,981.0C1860.2,981.0 1867.4,982.8 1872.6,984.5C1877.8,986.2 1883.0,990.8 1886.4,991.4C1889.9,991.4 1891.0,987.9 1893.3,987.9C1895.6,990.5 1898.6,998.0 1900.3,1006.9C1902.0,1015.8 1902.5,1028.5 1903.7,1041.5C1904.9,1054.5 1905.8,1083.3 1907.2,1084.7C1908.7,1084.7 1910.4,1061.6 1912.4,1050.1C1914.4,1038.6 1916.4,1023.7 1919.3,1015.6C1922.2,1007.5 1925.9,1006.3 1929.6,1001.7C1933.3,997.1 1937.4,989.3 1941.7,987.9C1946.0,987.9 1951.8,991.6 1955.6,993.1C1959.3,994.6 1961.3,996.6 1964.2,996.6C1967.1,996.3 1969.7,991.7 1972.9,991.4C1976.1,991.4 1980.6,991.4 1983.2,994.8C1985.8,998.8 1987.0,1005.5 1988.4,1015.6C1989.9,1025.7 1990.2,1054.1 1991.9,1055.3C1993.6,1055.3 1996.5,1028.2 1998.8,1022.5C2001.1,1020.8 2003.1,1020.8 2005.7,1020.8C2008.3,1021.1 2011.4,1022.8 2014.3,1024.2C2017.2,1025.6 2020.4,1025.1 2023.0,1029.4C2025.6,1033.7 2027.9,1040.9 2029.9,1050.1C2031.9,1059.3 2033.1,1071.7 2035.1,1084.7C2037.1,1097.7 2040.0,1128.0 2042.0,1128.0C2044.0,1128.0 2045.5,1097.7 2047.2,1084.7C2048.9,1071.7 2050.4,1060.2 2052.4,1050.1C2054.4,1040.0 2056.4,1033.4 2059.3,1024.2C2062.2,1015.0 2066.2,1001.1 2069.7,994.8C2073.1,988.5 2076.3,987.4 2080.0,986.2C2083.7,986.2 2089.2,986.5 2092.1,987.9C2095.0,989.3 2094.4,993.1 2097.3,994.8C2100.2,996.5 2105.9,995.4 2109.4,998.3C2112.9,1001.2 2115.0,1006.3 2118.1,1012.1C2121.2,1017.9 2126.3,1029.5 2128.0,1033.0" fill="none" stroke="#ff00ff" stroke-width="7" stroke-linejoin="round" stroke-linecap="round"/>
<path d="M255.0,758.0C260.8,757.8 282.7,758.0 290.0,757.0C297.3,754.7 294.0,745.0 299.0,744.0C304.0,744.0 312.3,748.8 320.0,751.0C327.7,753.2 331.7,755.8 345.0,757.0C358.3,758.0 389.3,757.3 400.0,758.0C410.7,758.7 401.0,761.0 409.0,761.0C417.0,759.8 436.2,751.5 448.0,751.0C459.8,751.0 470.8,757.5 480.0,758.0C489.2,758.0 488.0,754.0 503.0,754.0C518.0,754.0 547.2,757.2 570.0,758.0C592.8,758.8 624.5,759.0 640.0,759.0C655.5,759.0 647.7,757.9 663.0,757.9C678.3,758.5 710.9,761.7 732.0,762.5C753.1,762.5 774.4,762.5 789.8,762.5C805.2,763.3 817.4,765.8 824.3,767.1C831.2,768.5 827.4,770.6 831.2,770.6C835.1,770.4 838.9,767.0 847.4,766.0C855.9,765.0 870.5,764.8 882.0,764.8C893.5,765.4 903.1,769.0 916.5,769.4C929.9,769.4 952.0,767.1 962.6,767.1C973.2,767.1 972.8,768.8 980.0,769.3C987.2,769.8 998.7,769.3 1005.9,770.2C1013.1,771.1 1018.9,772.3 1023.2,774.5C1027.5,776.7 1028.9,782.5 1031.8,783.2C1034.7,783.2 1037.9,778.8 1040.5,778.8C1043.1,779.4 1044.8,779.5 1047.4,786.6C1050.0,793.7 1053.4,812.0 1056.0,821.2C1058.6,830.4 1060.9,839.9 1062.9,841.9C1064.9,841.9 1066.6,833.5 1068.1,833.5C1069.5,834.1 1070.1,836.7 1071.6,845.6C1073.0,854.5 1075.1,872.5 1076.8,887.0C1078.5,901.5 1080.4,921.3 1082.0,932.3C1083.6,943.3 1084.6,953.1 1086.3,953.1C1088.0,953.1 1090.3,939.5 1092.3,932.3C1094.3,925.1 1096.4,910.8 1098.4,909.9C1100.4,909.9 1103.0,921.9 1104.4,927.1C1105.8,932.3 1105.8,941.0 1107.0,941.0C1108.2,939.9 1109.7,932.7 1111.3,920.2C1112.9,907.7 1114.5,881.7 1116.5,866.0C1118.5,850.3 1120.8,837.2 1123.4,826.0C1126.0,814.8 1128.6,803.8 1132.1,798.7C1135.6,795.3 1140.2,795.4 1144.2,795.3C1148.2,795.3 1151.7,797.9 1156.3,797.9C1160.9,797.6 1167.2,793.5 1171.8,793.5C1176.4,793.6 1180.2,794.0 1183.9,798.7C1187.7,803.5 1191.4,816.0 1194.3,822.0C1197.2,828.0 1198.0,830.3 1201.2,835.0C1204.4,839.7 1208.7,849.7 1213.3,850.0C1217.9,850.0 1224.8,837.0 1228.8,837.0C1232.8,837.1 1234.3,844.1 1237.5,850.8C1240.7,857.5 1243.4,870.3 1247.8,877.0C1252.2,883.7 1260.0,885.9 1263.8,891.1C1267.6,896.3 1268.4,899.2 1270.7,908.4C1273.0,917.6 1275.6,932.0 1277.6,946.4C1279.6,960.8 1281.1,985.3 1282.8,994.8C1284.5,1003.4 1285.7,1002.8 1288.0,1003.4C1290.3,1003.4 1293.8,998.2 1296.7,998.2C1299.6,999.4 1302.7,1003.1 1305.3,1010.3C1307.9,1017.5 1309.9,1029.0 1312.2,1041.4C1314.5,1053.8 1316.8,1080.3 1319.1,1084.6C1321.4,1084.6 1323.7,1074.6 1326.0,1067.4C1328.3,1060.2 1330.6,1050.1 1332.9,1041.4C1335.2,1032.8 1336.7,1019.5 1339.9,1015.5C1343.1,1015.5 1348.8,1017.2 1352.0,1017.2C1355.2,1013.8 1356.9,1005.2 1358.9,994.8C1360.9,984.4 1362.0,964.8 1364.0,955.0C1366.0,945.2 1368.1,941.2 1371.0,936.0C1373.9,930.8 1377.6,927.1 1381.3,923.9C1385.0,920.7 1388.8,920.6 1393.4,917.0C1398.0,913.4 1404.7,903.7 1409.0,902.3C1413.3,902.3 1416.4,903.9 1419.3,908.4C1422.2,912.9 1423.7,918.7 1426.3,929.1C1428.9,939.5 1432.0,966.0 1434.9,970.6C1437.8,970.6 1440.6,963.7 1443.5,956.8C1446.4,949.9 1449.0,939.5 1452.2,929.1C1455.4,918.7 1459.0,902.4 1462.5,894.6C1466.0,886.8 1469.4,886.0 1472.9,882.5C1476.4,879.0 1480.1,877.9 1483.3,873.8C1486.5,869.7 1488.5,863.7 1491.9,858.0C1495.4,852.3 1500.2,843.8 1504.0,839.5C1507.8,835.2 1511.5,832.8 1514.4,832.5C1517.3,832.5 1519.3,832.8 1521.3,837.7C1523.3,842.6 1524.7,849.9 1526.5,861.9C1528.3,873.9 1530.3,908.5 1532.1,910.0C1533.9,910.0 1535.6,884.4 1537.3,870.6C1539.0,856.8 1540.5,838.4 1542.5,827.4C1544.5,816.4 1546.2,809.2 1549.4,804.9C1552.6,801.4 1557.8,803.7 1561.5,801.4C1565.2,799.1 1568.1,793.7 1571.8,791.1C1575.5,788.5 1580.7,785.9 1583.9,785.9C1587.1,785.9 1588.8,787.1 1590.8,791.1C1592.8,795.1 1593.7,803.5 1596.0,810.1C1598.3,816.7 1602.1,826.2 1604.7,830.8C1607.3,835.4 1609.3,831.1 1611.6,837.7C1613.9,844.3 1616.8,858.2 1618.5,870.6C1620.2,883.0 1620.6,896.3 1622.0,911.8C1623.4,927.3 1625.1,943.5 1627.1,963.7C1629.1,983.9 1632.0,1009.8 1634.0,1032.8C1636.0,1055.8 1637.5,1096.1 1639.2,1101.9C1640.9,1101.9 1643.0,1087.6 1644.4,1067.4C1645.9,1047.2 1646.8,1000.6 1647.9,981.0C1649.1,961.4 1649.9,951.4 1651.3,949.9C1652.7,949.9 1654.8,971.4 1656.5,972.3C1658.2,972.3 1659.4,955.9 1661.7,955.0C1664.0,955.0 1668.0,967.1 1670.3,967.1C1672.6,963.4 1672.9,942.4 1675.5,932.6C1678.1,922.8 1682.7,917.0 1685.9,908.4C1689.1,899.8 1691.6,887.0 1694.5,880.7C1697.4,874.4 1700.6,871.8 1703.2,870.4C1705.8,870.4 1708.1,870.4 1710.1,872.1C1712.1,876.1 1713.9,882.2 1715.3,894.6C1716.7,907.0 1717.5,946.4 1718.7,946.4C1719.9,946.4 1721.1,909.0 1722.2,894.6C1723.3,880.2 1724.4,872.6 1725.6,860.0C1726.8,847.4 1727.4,826.2 1729.1,818.7C1730.8,815.3 1733.7,815.3 1736.0,815.3C1738.3,818.2 1741.2,825.4 1742.9,836.0C1744.6,846.6 1745.2,863.7 1746.4,879.2C1747.6,894.7 1748.7,904.9 1749.8,929.1C1750.9,953.3 1751.8,1018.4 1753.3,1024.2C1754.8,1024.2 1757.1,982.4 1758.5,963.7C1759.9,945.0 1760.2,926.2 1761.9,911.8C1763.6,897.4 1765.9,887.0 1768.8,877.3C1771.7,867.5 1775.7,861.0 1779.2,853.3C1782.7,845.5 1785.3,836.3 1789.6,830.8C1793.9,825.3 1801.1,822.4 1805.1,820.4C1809.1,818.8 1809.8,819.6 1813.8,818.8C1817.8,817.9 1824.8,815.3 1829.4,815.3C1834.0,815.3 1837.8,818.8 1841.5,818.8C1845.2,818.5 1846.7,815.0 1851.9,813.6C1857.1,812.2 1866.0,811.2 1872.6,810.1C1879.2,809.0 1887.3,806.7 1891.6,806.7C1895.9,807.3 1896.8,807.3 1898.5,813.6C1900.2,819.9 1900.9,830.3 1902.0,844.7C1903.1,859.1 1904.1,882.2 1905.0,900.0C1905.9,917.8 1906.4,951.6 1907.2,951.6C1908.0,951.6 1909.1,912.0 1910.0,900.0C1910.9,888.0 1910.6,887.1 1912.4,879.3C1914.2,871.5 1917.8,860.6 1921.0,853.4C1924.2,846.2 1928.2,840.7 1931.4,836.1C1934.6,831.5 1936.8,826.6 1940.0,825.7C1943.2,825.7 1944.9,830.0 1950.4,830.9C1955.9,830.9 1967.4,830.9 1972.9,830.9C1978.4,831.8 1980.6,830.9 1983.2,836.1C1985.8,841.3 1987.0,844.5 1988.4,862.0C1989.9,879.5 1990.5,934.9 1991.9,941.2C1993.3,941.2 1995.3,908.6 1997.0,900.0C1998.7,891.4 2001.0,891.2 2002.2,889.7C2003.4,889.7 2002.0,889.7 2004.0,891.1C2006.0,893.6 2011.1,902.6 2014.3,904.9C2017.5,904.9 2020.1,904.9 2023.0,904.9C2025.9,908.9 2029.3,916.4 2031.6,929.1C2033.9,941.8 2035.3,963.7 2036.8,981.0C2038.2,998.3 2039.4,1019.1 2040.3,1032.9C2041.2,1046.7 2041.1,1064.0 2042.0,1064.0C2042.9,1061.1 2044.3,1032.3 2045.5,1015.6C2046.7,998.9 2047.2,981.0 2048.9,963.7C2050.6,946.4 2053.5,924.5 2055.8,911.9C2058.1,899.3 2059.5,898.8 2062.7,887.9C2065.9,877.0 2071.1,853.9 2074.8,846.4C2078.6,843.0 2082.0,843.3 2085.2,843.0C2088.4,843.0 2091.3,843.0 2093.9,844.7C2096.5,846.4 2098.2,852.8 2100.8,853.4C2103.4,853.4 2106.2,848.2 2109.4,848.2C2112.6,851.4 2116.7,870.1 2119.8,872.4C2122.9,872.4 2126.6,863.7 2128.0,862.0" fill="none" stroke="#008080" stroke-width="7" stroke-linejoin="round" stroke-linecap="round"/>
<path d="M255.0,647.0C260.8,646.7 283.0,647.0 290.0,645.0C297.0,642.8 292.0,634.8 297.0,634.0C302.0,634.0 312.0,637.8 320.0,640.0C328.0,642.2 318.3,645.7 345.0,647.0C371.7,648.0 457.0,647.2 480.0,648.0C503.0,648.8 481.3,652.0 483.0,652.0C484.7,650.7 483.8,641.0 490.0,640.0C496.2,640.0 505.0,644.8 520.0,646.0C535.0,647.0 560.0,646.0 580.0,647.0C600.0,648.2 626.2,652.6 640.0,653.0C653.8,653.0 650.7,649.6 663.0,649.6C675.3,649.8 697.6,653.2 713.7,654.2C729.8,655.2 748.3,655.3 759.8,655.3C771.3,654.9 777.5,651.9 782.9,651.9C788.3,651.9 765.9,654.7 792.0,655.3C818.1,655.3 909.2,655.3 939.5,655.3C969.8,655.3 962.5,655.3 974.0,655.3C985.5,655.7 999.4,655.3 1008.7,657.6C1018.1,659.9 1025.1,667.6 1030.1,669.1C1035.1,669.1 1035.9,666.5 1038.8,666.5C1041.7,667.1 1044.5,666.5 1047.4,672.6C1050.3,678.8 1053.4,695.9 1056.0,703.7C1058.6,711.5 1060.9,717.5 1062.9,719.2C1064.9,719.2 1066.6,714.0 1068.1,714.0C1069.5,714.3 1070.1,714.0 1071.6,721.0C1073.0,729.4 1075.1,749.8 1076.8,764.2C1078.5,778.6 1080.3,796.8 1082.0,807.4C1083.7,818.0 1085.4,826.4 1087.1,828.1C1088.8,828.1 1090.3,824.6 1092.3,817.7C1094.3,810.8 1097.2,789.5 1099.2,786.6C1101.2,786.6 1103.0,798.4 1104.4,800.4C1105.9,800.4 1106.5,800.4 1107.9,798.7C1109.4,794.1 1111.4,784.3 1113.1,772.8C1114.8,761.3 1115.9,743.4 1118.2,729.6C1120.5,715.8 1124.3,698.0 1126.9,689.9C1129.5,681.8 1130.9,682.5 1133.8,681.2C1136.7,681.2 1140.2,681.2 1144.2,682.1C1148.2,683.0 1153.4,686.4 1158.0,686.4C1162.6,686.2 1167.5,681.2 1171.8,681.2C1176.1,681.5 1180.5,684.4 1183.9,688.1C1187.4,691.9 1189.3,697.7 1192.5,703.7C1195.7,709.8 1199.2,719.2 1202.9,724.4C1206.7,729.6 1211.0,734.2 1215.0,734.8C1219.0,734.8 1223.6,727.9 1227.1,727.9C1230.5,728.5 1232.2,732.5 1235.7,738.2C1239.2,744.0 1243.4,756.2 1247.8,762.4C1252.2,768.6 1258.3,770.4 1262.1,775.5C1265.9,780.6 1268.1,784.1 1270.7,792.8C1273.3,801.4 1275.6,817.6 1277.6,827.4C1279.6,837.2 1280.8,846.7 1282.8,851.6C1284.8,856.5 1287.4,855.6 1289.7,856.7C1292.0,857.9 1294.1,856.7 1296.7,858.5C1299.3,861.7 1303.0,869.1 1305.3,875.7C1307.6,882.3 1308.2,889.1 1310.5,898.0C1312.8,906.9 1316.5,926.2 1319.1,929.1C1321.7,929.1 1323.4,922.5 1326.0,915.3C1328.6,908.1 1332.4,893.7 1334.7,885.9C1337.0,878.1 1337.3,870.9 1339.9,868.6C1342.5,868.6 1347.0,872.1 1350.2,872.1C1353.4,870.3 1357.2,862.6 1358.9,858.0C1360.6,853.4 1358.9,851.7 1360.6,844.6C1362.3,837.5 1366.3,822.5 1369.2,815.3C1372.1,808.1 1374.7,804.9 1377.9,801.4C1381.1,797.9 1384.8,796.8 1388.2,794.5C1391.7,792.2 1395.1,789.8 1398.6,787.6C1402.1,785.5 1405.5,781.6 1409.0,781.6C1412.5,781.9 1416.4,784.5 1419.3,789.3C1422.2,794.0 1423.7,801.2 1426.3,810.1C1428.9,819.0 1432.3,840.0 1434.9,842.9C1437.5,842.9 1438.6,834.3 1441.8,827.4C1445.0,820.5 1450.5,810.0 1453.9,801.4C1457.4,792.8 1458.5,782.7 1462.5,775.5C1466.5,768.3 1473.8,763.4 1478.1,758.2C1482.4,753.0 1485.0,749.0 1488.5,744.4C1492.0,739.8 1494.8,734.9 1498.8,730.6C1502.8,726.3 1509.2,719.9 1512.7,718.5C1516.2,718.5 1517.3,718.5 1519.6,722.0C1521.9,725.8 1524.4,734.3 1526.5,741.0C1528.6,747.7 1530.3,762.0 1532.1,762.0C1533.9,760.5 1535.6,742.1 1537.3,732.3C1539.0,722.4 1540.5,709.5 1542.5,702.9C1544.5,696.3 1546.2,694.6 1549.4,692.6C1552.6,690.8 1557.8,692.5 1561.5,690.8C1565.2,689.1 1568.1,684.2 1571.8,682.2C1575.5,680.2 1580.7,678.8 1583.9,678.8C1587.1,679.1 1588.8,680.4 1590.8,683.9C1592.8,687.4 1593.7,693.7 1596.0,699.5C1598.3,705.3 1602.1,714.5 1604.7,718.5C1607.3,722.5 1609.3,718.5 1611.6,723.7C1613.9,730.3 1616.2,743.8 1618.5,758.2C1620.8,772.6 1623.1,792.8 1625.4,810.1C1627.7,827.4 1630.0,840.3 1632.3,861.9C1634.6,883.5 1637.2,932.6 1639.2,939.5C1641.2,939.5 1643.2,913.2 1644.4,903.2C1645.6,893.2 1644.9,893.3 1646.1,879.2C1647.2,865.1 1649.3,830.5 1651.3,818.7C1653.3,808.4 1655.9,809.0 1658.2,808.4C1660.5,808.4 1662.9,809.8 1665.2,815.3C1667.5,820.8 1669.8,840.6 1672.1,841.2C1674.4,841.2 1676.4,826.8 1679.0,818.7C1681.6,810.6 1685.0,801.4 1687.6,792.8C1690.2,784.2 1691.9,773.2 1694.5,766.9C1697.1,760.6 1700.6,756.5 1703.2,754.8C1705.8,754.8 1708.1,754.8 1710.1,756.5C1712.1,758.5 1713.9,758.0 1715.3,766.9C1716.7,775.8 1717.5,810.1 1718.7,810.1C1719.9,805.8 1720.8,756.9 1722.2,741.0C1723.7,725.1 1725.4,720.2 1727.4,715.0C1729.4,709.9 1732.0,709.9 1734.3,709.9C1736.6,710.2 1739.2,709.9 1741.2,716.8C1743.2,724.8 1744.7,742.7 1746.4,758.2C1748.1,773.8 1750.4,794.8 1751.6,810.1C1752.8,825.4 1752.1,849.8 1753.3,849.8C1754.5,846.9 1756.8,809.5 1758.5,792.8C1760.2,776.1 1761.0,759.4 1763.6,749.6C1766.2,739.8 1770.0,739.5 1774.0,734.0C1778.0,728.5 1782.6,721.4 1787.8,716.8C1793.0,712.2 1800.2,708.1 1805.1,706.4C1810.0,706.4 1811.5,706.4 1817.3,706.4C1823.1,706.7 1834.0,708.2 1839.8,708.2C1845.6,707.9 1844.7,706.2 1851.9,704.7C1859.1,703.2 1875.5,699.5 1883.0,699.5C1890.5,699.5 1893.6,700.7 1896.8,704.7C1900.0,708.7 1900.6,711.9 1902.0,723.7C1903.4,735.5 1904.2,759.8 1905.4,775.6C1906.6,791.5 1907.7,818.8 1908.9,818.8C1910.1,817.3 1910.4,778.7 1912.4,766.9C1914.4,755.1 1917.3,755.1 1921.0,747.9C1924.7,740.7 1931.3,728.9 1934.8,723.7C1938.2,718.5 1939.1,717.1 1941.7,716.8C1944.3,716.8 1945.2,721.1 1950.4,722.0C1955.6,722.0 1967.7,722.0 1972.9,722.0C1978.1,722.9 1978.9,724.0 1981.5,727.2C1984.1,730.4 1986.7,730.0 1988.4,741.0C1990.1,752.0 1990.5,787.1 1991.9,792.9C1993.4,792.9 1995.1,779.9 1997.1,775.6C1999.1,771.3 2001.4,767.2 2004.0,766.9C2006.6,766.9 2010.3,768.6 2012.6,773.8C2014.9,779.0 2015.8,794.8 2017.8,798.0C2019.8,798.0 2022.4,792.9 2024.7,792.9C2027.0,794.9 2029.6,801.5 2031.6,810.1C2033.6,818.7 2035.1,826.6 2036.8,844.7C2038.5,862.8 2040.3,913.0 2042.0,918.8C2043.7,918.8 2044.9,896.0 2047.2,879.3C2049.5,862.6 2052.9,834.6 2055.8,818.8C2058.7,802.9 2061.6,794.9 2064.5,784.2C2067.4,773.5 2069.7,760.0 2073.1,754.8C2076.5,753.1 2081.7,753.8 2085.2,753.1C2088.7,752.4 2091.0,750.5 2093.9,750.5C2096.8,750.8 2099.6,754.6 2102.5,754.8C2105.4,754.8 2108.3,751.4 2111.2,751.4C2114.1,754.3 2117.0,769.2 2119.8,772.1C2122.6,772.1 2126.6,769.3 2128.0,768.7" fill="none" stroke="#0000ff" stroke-width="7" stroke-linejoin="round" stroke-linecap="round"/>
<path d="M255.0,537.0C260.8,537.2 283.5,538.0 290.0,538.0C296.5,536.5 292.8,528.0 294.0,528.0C295.2,528.7 296.0,541.7 297.0,542.0C298.0,542.0 292.8,531.9 300.0,530.0C307.2,530.0 325.0,530.0 340.0,530.5C355.0,531.5 371.7,534.9 390.0,536.0C408.3,537.0 435.0,536.7 450.0,537.0C465.0,537.3 474.2,537.3 480.0,538.0C485.8,538.7 483.0,541.0 485.0,541.0C487.0,540.0 486.2,533.2 492.0,532.0C497.8,532.0 495.3,533.0 520.0,534.0C544.7,535.0 617.7,537.5 640.0,537.8C662.3,537.8 641.5,535.5 653.8,535.5C666.1,535.7 675.3,538.4 713.7,539.0C752.1,539.0 854.2,539.0 884.2,539.0C914.2,539.4 876.6,541.3 893.5,541.3C910.4,541.3 965.6,539.0 985.6,539.0C1005.6,539.0 1005.9,539.3 1013.3,541.3C1020.7,543.3 1025.3,549.6 1030.1,551.1C1034.9,551.1 1039.0,550.2 1042.2,550.2C1045.4,551.1 1046.8,551.5 1049.1,556.3C1051.4,561.0 1053.7,570.9 1056.0,578.7C1058.3,586.5 1060.9,599.4 1062.9,602.9C1064.9,602.9 1066.4,600.0 1068.1,600.0C1069.8,602.9 1071.3,610.0 1073.3,620.0C1075.3,630.0 1078.0,648.6 1080.2,660.0C1082.4,671.4 1084.3,686.6 1086.3,688.1C1088.3,688.1 1090.3,675.2 1092.3,669.1C1094.3,663.0 1096.7,651.8 1098.4,651.8C1100.1,651.8 1101.1,662.8 1102.7,669.1C1104.3,675.5 1106.2,689.9 1107.9,689.9C1109.6,689.3 1111.4,676.4 1113.1,665.7C1114.8,655.0 1116.5,638.5 1118.2,625.9C1119.9,613.3 1121.1,600.8 1123.4,590.0C1125.7,579.2 1127.2,565.7 1132.1,561.4C1137.0,561.4 1145.6,564.0 1152.8,564.0C1160.0,564.0 1169.5,561.4 1175.3,561.4C1181.1,561.5 1183.7,561.4 1187.4,564.9C1191.1,568.9 1193.4,581.3 1197.7,585.6C1202.0,589.9 1208.1,590.2 1213.3,590.8C1218.5,590.8 1225.1,589.1 1228.8,589.1C1232.5,590.2 1232.2,590.8 1235.7,597.7C1239.2,604.6 1245.0,623.2 1249.6,630.6C1254.2,638.0 1260.2,637.1 1263.4,642.0C1266.6,646.9 1266.9,650.5 1269.0,659.8C1271.1,669.1 1273.9,684.8 1275.9,697.8C1277.9,710.8 1279.4,727.4 1281.1,737.5C1282.8,747.6 1284.3,757.1 1286.3,758.2C1288.3,758.2 1290.9,747.6 1293.2,744.4C1295.5,741.2 1297.8,739.2 1300.1,739.2C1302.4,740.6 1304.7,746.1 1307.0,753.0C1309.3,759.9 1311.9,772.6 1313.9,780.7C1315.9,788.8 1317.1,800.5 1319.1,801.4C1321.1,801.4 1323.7,792.5 1326.0,785.9C1328.3,779.3 1330.6,769.8 1332.9,761.7C1335.2,753.6 1337.0,740.4 1339.9,737.5C1342.8,737.5 1347.3,744.4 1350.2,744.4C1353.1,742.7 1354.8,735.7 1357.1,727.1C1359.4,718.5 1361.7,701.8 1364.0,692.6C1366.3,683.4 1368.1,677.0 1371.0,671.8C1373.9,666.6 1377.3,664.1 1381.3,661.5C1385.3,658.9 1390.6,658.6 1395.2,656.3C1399.8,654.0 1405.0,647.9 1409.0,647.6C1413.0,647.6 1416.4,650.6 1419.3,654.6C1422.2,658.6 1423.7,662.6 1426.3,671.8C1428.9,681.0 1432.3,706.4 1434.9,709.9C1437.5,709.9 1438.9,699.5 1441.8,692.6C1444.7,685.7 1449.0,676.5 1452.2,668.4C1455.4,660.3 1457.6,650.5 1460.8,644.2C1464.0,637.9 1467.7,634.4 1471.2,630.4C1474.7,626.4 1477.3,625.9 1481.6,620.2C1485.9,614.5 1492.2,601.5 1497.1,596.0C1502.0,590.5 1507.2,588.3 1510.9,587.4C1514.7,587.4 1517.0,587.4 1519.6,590.8C1522.2,598.0 1524.4,617.7 1526.5,630.6C1528.6,643.5 1530.3,668.0 1532.1,668.0C1533.9,668.0 1535.6,644.0 1537.3,630.6C1539.0,617.2 1540.8,598.9 1542.5,587.4C1544.2,575.9 1545.0,566.0 1547.6,561.4C1550.2,559.7 1554.5,561.1 1558.0,559.7C1561.5,558.3 1564.4,554.7 1568.4,552.8C1572.4,550.9 1578.5,548.5 1582.2,548.5C1585.9,549.1 1588.2,551.3 1590.8,556.3C1593.4,561.3 1595.2,573.0 1597.8,578.7C1600.4,584.5 1603.8,587.6 1606.4,590.8C1609.0,594.0 1611.0,591.1 1613.3,597.7C1615.6,604.3 1617.9,618.2 1620.2,630.6C1622.5,643.0 1624.8,653.6 1627.1,672.0C1629.4,690.4 1631.7,716.5 1634.0,741.0C1636.3,765.5 1639.3,810.1 1641.0,818.7C1642.7,818.7 1643.2,814.4 1644.4,792.8C1645.6,771.2 1646.5,708.1 1647.9,689.1C1649.4,678.8 1651.4,678.8 1653.1,678.8C1654.8,682.5 1656.5,709.9 1658.2,711.6C1659.9,711.6 1661.1,695.7 1663.4,689.1C1665.7,682.5 1669.5,677.5 1672.1,671.8C1674.7,666.0 1677.0,660.6 1679.0,654.6C1681.0,648.6 1681.9,641.7 1684.2,635.7C1686.5,629.7 1689.9,623.1 1692.8,618.5C1695.7,613.9 1698.5,609.8 1701.4,608.1C1704.3,608.1 1707.8,608.1 1710.1,608.1C1712.4,610.4 1713.9,608.7 1715.3,621.9C1716.7,635.1 1717.3,687.4 1718.7,687.4C1720.1,687.1 1722.5,636.7 1723.9,620.0C1725.4,603.3 1726.0,596.3 1727.4,587.4C1728.8,578.5 1730.5,569.8 1732.5,566.6C1734.5,566.6 1737.5,566.6 1739.5,568.4C1741.5,573.3 1742.9,581.3 1744.6,596.0C1746.3,610.7 1748.3,635.8 1749.8,656.5C1751.2,677.2 1752.1,703.0 1753.3,720.0C1754.5,737.0 1755.5,758.2 1756.7,758.2C1757.9,754.9 1759.0,719.7 1760.2,700.0C1761.4,680.3 1762.3,655.9 1764.0,640.0C1765.7,624.1 1767.5,613.4 1770.6,604.6C1773.7,595.8 1779.0,592.9 1782.7,587.4C1786.4,581.9 1789.3,575.3 1793.0,571.8C1796.7,568.3 1801.0,568.0 1805.1,566.6C1809.1,565.2 1811.2,563.2 1817.3,563.2C1823.4,563.2 1835.7,566.7 1841.5,566.7C1847.3,566.7 1846.7,564.4 1851.9,563.2C1857.1,562.1 1865.7,560.4 1872.6,559.8C1879.5,559.8 1888.7,559.8 1893.3,559.8C1897.9,563.0 1898.6,568.4 1900.3,578.8C1902.0,589.2 1902.5,603.9 1903.7,622.0C1904.9,640.1 1905.8,684.5 1907.2,687.4C1908.7,687.4 1910.1,654.5 1912.4,639.3C1914.7,624.1 1917.8,606.2 1921.0,596.1C1924.2,586.0 1928.2,583.8 1931.4,578.8C1934.6,573.8 1936.8,566.9 1940.0,565.8C1943.2,565.8 1946.4,570.9 1950.4,571.9C1954.4,571.9 1959.3,571.9 1964.2,571.9C1969.1,572.5 1976.0,571.9 1979.8,575.3C1983.5,579.3 1984.7,583.6 1986.7,596.1C1988.7,608.6 1990.8,635.9 1991.9,650.0C1993.1,664.1 1992.8,680.5 1993.6,680.5C1994.4,680.5 1995.8,657.6 1997.0,650.0C1998.2,642.4 1999.0,638.9 2000.5,635.0C2002.0,631.1 2003.4,627.4 2005.7,626.9C2008.0,626.9 2011.4,630.4 2014.3,632.1C2017.2,633.8 2020.1,632.1 2023.0,637.3C2025.9,642.5 2029.0,648.8 2031.6,663.2C2034.2,677.6 2036.8,704.1 2038.5,723.7C2040.2,743.3 2040.8,779.3 2042.0,780.8C2043.2,780.8 2044.3,747.7 2045.5,732.4C2046.7,717.1 2047.2,704.6 2048.9,689.1C2050.6,673.6 2052.9,654.8 2055.8,639.3C2058.7,623.8 2063.0,607.6 2066.2,596.1C2069.4,584.6 2071.7,575.3 2074.9,570.1C2078.1,565.0 2082.0,565.3 2085.2,565.0C2088.4,565.0 2091.6,566.1 2093.9,568.4C2096.2,570.7 2096.1,577.3 2099.0,578.8C2101.9,578.8 2108.0,577.1 2111.2,577.1C2114.4,580.9 2115.3,598.1 2118.1,601.3C2120.9,601.3 2126.3,596.9 2128.0,596.0" fill="none" stroke="#ff0000" stroke-width="7" stroke-linejoin="round" stroke-linecap="round"/>
<path d="M255.0,418.0C259.2,418.0 274.0,418.0 280.0,418.0C286.0,418.3 288.7,420.0 291.0,420.0C293.3,417.7 293.0,404.0 294.0,404.0C295.0,405.2 296.0,425.7 297.0,427.0C298.0,427.0 296.2,414.7 300.0,412.0C303.8,411.0 313.3,411.0 320.0,411.0C326.7,411.3 328.3,412.7 340.0,414.0C351.7,415.3 373.3,417.7 390.0,419.0C406.7,420.3 425.0,421.2 440.0,422.0C455.0,422.8 472.5,423.2 480.0,424.0C487.5,424.8 482.0,427.0 485.0,427.0C488.0,425.0 492.2,413.8 498.0,412.0C503.8,412.0 508.0,414.5 520.0,416.0C532.0,417.5 550.0,420.1 570.0,421.0C590.0,421.5 621.4,421.4 640.0,421.5C658.6,421.5 670.8,421.5 681.5,421.5C692.2,422.1 695.3,424.1 704.5,425.0C713.7,425.9 726.8,427.2 736.8,427.2C746.8,426.8 739.8,423.4 764.4,422.6C789.0,422.6 862.7,422.6 884.2,422.6C905.7,423.0 875.8,424.8 893.5,425.0C911.2,425.0 971.5,423.8 990.2,423.8C1008.9,424.9 1000.1,429.6 1005.9,431.8C1011.7,434.0 1020.7,435.0 1024.9,437.0C1029.1,439.0 1028.7,443.6 1031.0,443.9C1033.3,443.9 1036.3,438.8 1038.8,438.8C1041.2,438.8 1043.4,439.9 1045.7,443.9C1048.0,447.9 1050.3,455.8 1052.6,463.0C1054.9,470.2 1057.5,481.9 1059.5,487.1C1061.5,492.3 1063.3,493.7 1064.7,494.0C1066.1,494.0 1066.9,488.9 1068.1,488.9C1069.2,490.1 1070.1,493.2 1071.6,501.0C1073.0,508.8 1075.1,524.0 1076.8,535.5C1078.5,547.0 1080.3,560.6 1082.0,570.0C1083.7,579.4 1085.4,590.2 1087.1,591.7C1088.8,591.7 1090.3,585.2 1092.3,578.7C1094.3,572.2 1097.2,554.8 1099.2,552.8C1101.2,552.8 1103.0,564.9 1104.4,566.6C1105.9,566.6 1106.5,566.6 1107.9,563.2C1109.4,558.0 1111.4,546.5 1113.1,535.5C1114.8,524.5 1115.9,510.4 1118.2,497.5C1120.5,484.6 1124.0,466.3 1126.9,457.8C1129.8,449.3 1132.6,448.2 1135.5,446.5C1138.4,446.5 1140.5,446.5 1144.2,447.4C1148.0,448.4 1153.4,452.2 1158.0,452.6C1162.6,452.6 1167.5,450.0 1171.8,450.0C1176.1,450.6 1180.5,452.7 1183.9,456.0C1187.4,459.3 1189.6,464.7 1192.5,469.9C1195.4,475.1 1197.5,481.6 1201.2,487.1C1205.0,492.6 1210.7,500.8 1215.0,502.7C1219.3,502.7 1223.6,498.4 1227.1,498.4C1230.5,499.3 1232.0,502.6 1235.7,507.9C1239.5,513.2 1245.2,524.8 1249.6,530.0C1254.0,535.2 1258.6,535.2 1262.1,539.0C1265.6,542.8 1267.8,543.3 1270.7,552.8C1273.6,562.3 1277.1,585.0 1279.4,596.0C1281.7,607.0 1282.0,613.8 1284.6,618.5C1287.2,623.2 1291.7,621.2 1294.9,624.0C1298.1,626.8 1301.0,628.5 1303.6,635.0C1306.2,641.5 1307.9,654.2 1310.5,663.2C1313.1,672.2 1316.5,687.1 1319.1,689.1C1321.7,689.1 1323.7,681.0 1326.0,675.3C1328.3,669.5 1330.6,661.5 1332.9,654.6C1335.2,647.7 1337.0,636.4 1339.9,633.8C1342.8,633.8 1347.3,639.0 1350.2,639.0C1353.1,637.0 1354.2,631.1 1357.1,621.9C1360.0,612.7 1364.0,593.7 1367.5,583.9C1371.0,574.1 1373.9,567.8 1377.9,563.2C1381.9,558.6 1386.2,559.2 1391.7,556.3C1397.2,553.4 1406.1,546.8 1410.7,545.9C1415.3,545.9 1416.7,547.1 1419.3,551.1C1421.9,555.1 1424.0,561.2 1426.3,570.1C1428.6,579.0 1430.3,601.7 1433.2,604.6C1436.1,604.6 1440.0,594.6 1443.5,587.4C1447.0,580.2 1450.7,569.5 1453.9,561.4C1457.1,553.3 1459.0,545.6 1462.5,539.0C1466.0,532.4 1471.4,525.7 1474.6,521.7C1477.8,517.7 1478.1,519.7 1481.6,514.8C1485.1,509.9 1490.8,498.6 1495.4,492.3C1500.0,486.0 1505.5,479.7 1509.2,476.8C1512.9,475.0 1515.2,475.0 1517.8,475.0C1520.4,479.0 1522.5,492.9 1524.8,501.0C1527.1,509.1 1529.4,523.4 1531.5,523.4C1533.6,521.9 1535.5,502.4 1537.3,492.3C1539.1,482.2 1540.8,470.4 1542.5,462.9C1544.2,455.4 1545.0,449.8 1547.6,447.4C1550.2,447.4 1554.5,448.3 1558.0,448.3C1561.5,446.9 1564.7,441.4 1568.4,438.8C1572.2,436.2 1577.0,433.0 1580.5,432.7C1584.0,432.7 1586.5,432.7 1589.1,437.0C1591.7,441.5 1593.7,452.9 1596.0,459.5C1598.3,466.1 1600.3,472.5 1602.9,476.8C1605.5,481.1 1609.0,478.5 1611.6,485.4C1614.2,492.3 1616.5,507.0 1618.5,518.2C1620.5,529.4 1621.7,538.4 1623.7,552.8C1625.7,567.2 1628.6,587.3 1630.6,604.6C1632.6,621.9 1634.4,641.8 1635.8,656.5C1637.2,671.2 1637.8,688.6 1639.2,692.6C1640.6,692.6 1643.2,690.8 1644.4,680.5C1645.6,670.2 1644.9,648.4 1646.1,630.6C1647.2,612.8 1649.3,583.6 1651.3,573.5C1653.3,570.1 1655.9,570.1 1658.2,570.1C1660.5,570.4 1662.9,571.0 1665.2,575.3C1667.5,579.6 1669.8,596.0 1672.1,596.0C1674.4,596.0 1676.4,583.6 1679.0,575.3C1681.6,566.9 1685.0,555.1 1687.6,545.9C1690.2,536.7 1692.2,526.3 1694.5,520.0C1696.8,513.7 1698.8,510.2 1701.4,507.9C1704.0,506.1 1707.8,506.1 1710.1,506.1C1712.4,507.5 1713.9,507.3 1715.3,516.5C1716.7,525.7 1717.5,561.4 1718.7,561.4C1719.9,558.8 1720.8,518.3 1722.2,501.0C1723.7,483.7 1725.4,465.9 1727.4,457.8C1729.4,452.6 1732.0,452.6 1734.3,452.6C1736.6,453.5 1739.2,456.3 1741.2,462.9C1743.2,469.5 1744.7,475.9 1746.4,492.3C1748.1,508.7 1750.4,543.2 1751.6,561.4C1752.8,579.5 1752.6,601.2 1753.8,601.2C1755.0,596.9 1756.9,553.6 1758.5,535.5C1760.1,517.4 1761.0,501.2 1763.6,492.3C1766.2,483.4 1770.5,485.7 1774.0,482.0C1777.5,478.3 1780.7,473.9 1784.4,469.9C1788.2,465.9 1792.2,461.0 1796.5,457.8C1800.8,454.6 1806.4,452.2 1810.3,450.8C1814.2,449.4 1816.0,449.1 1820.0,449.1C1824.0,449.4 1831.0,451.9 1834.6,452.6C1838.2,453.3 1838.6,453.5 1841.5,453.5C1844.4,452.5 1846.7,448.6 1851.9,446.6C1857.1,444.6 1865.7,442.0 1872.6,441.4C1879.5,441.4 1888.7,441.4 1893.3,443.1C1897.9,445.8 1898.6,449.6 1900.3,457.8C1902.0,466.0 1902.5,480.9 1903.7,492.4C1904.9,503.9 1906.3,514.5 1907.2,526.9C1908.1,539.3 1908.0,566.7 1908.9,566.7C1909.8,565.3 1910.4,531.5 1912.4,518.3C1914.4,505.0 1917.8,495.8 1921.0,487.2C1924.2,478.6 1928.2,471.4 1931.4,466.4C1934.6,461.3 1937.1,457.5 1940.0,456.9C1942.9,456.9 1945.5,462.3 1948.7,463.0C1951.9,463.0 1955.0,461.5 1959.0,461.2C1963.0,461.2 1969.2,461.2 1972.9,461.2C1976.7,462.4 1978.9,463.9 1981.5,468.2C1984.1,472.5 1986.7,474.5 1988.4,487.2C1990.1,499.9 1990.5,537.6 1991.9,544.2C1993.4,544.2 1995.4,532.4 1997.1,526.9C1998.8,521.4 1999.9,512.0 2002.2,511.4C2004.5,511.4 2008.3,520.0 2010.9,523.5C2013.5,527.0 2015.5,530.1 2017.8,532.1C2020.1,534.1 2022.4,532.1 2024.7,535.6C2027.0,539.1 2029.6,544.3 2031.6,552.9C2033.6,561.5 2035.4,574.5 2036.8,587.4C2038.2,600.2 2039.1,617.9 2040.0,630.0C2040.9,642.1 2041.2,660.0 2042.0,660.0C2042.8,658.3 2043.7,635.0 2044.5,620.0C2045.3,605.0 2045.7,587.0 2047.0,570.0C2048.3,553.0 2049.8,531.2 2052.4,518.3C2055.0,505.4 2059.2,501.3 2062.7,492.4C2066.1,483.5 2069.3,468.4 2073.1,464.7C2076.8,464.7 2081.2,467.9 2085.2,469.9C2089.2,471.9 2093.3,476.8 2097.3,476.8C2101.3,475.9 2105.9,464.7 2109.4,464.7C2112.9,468.7 2115.8,499.0 2118.1,501.0C2120.4,501.0 2121.7,482.0 2123.3,476.8C2125.0,471.6 2127.2,471.0 2128.0,469.9" fill="none" stroke="#000000" stroke-width="7" stroke-linejoin="round" stroke-linecap="round"/>
<path d="M255.0,248.5C259.7,248.8 275.5,249.9 283.0,250.0C290.5,250.0 280.5,249.0 300.0,249.0C319.5,249.0 361.3,249.2 400.0,250.0C438.7,250.8 505.3,253.7 532.0,253.7C558.7,253.7 548.3,250.9 560.0,250.0C571.7,249.1 593.7,248.0 602.0,248.0C610.3,248.3 607.8,248.2 610.0,252.0C612.2,255.8 612.5,270.2 615.0,270.5C617.5,270.5 619.9,257.2 624.7,253.7C629.5,250.2 638.0,249.5 644.0,249.5C650.0,250.0 656.3,253.5 661.0,256.5C665.7,259.5 668.7,265.6 672.0,267.7C675.3,269.0 678.0,267.7 680.8,269.0C683.6,272.2 686.2,282.6 689.0,287.0C691.8,291.4 692.9,294.9 697.6,295.7C702.3,295.7 707.2,294.3 717.0,291.5C726.8,288.7 742.9,283.4 756.5,279.0C770.1,274.6 785.9,268.3 798.5,265.0C811.1,261.7 821.8,260.3 832.0,259.3C842.2,258.8 851.4,258.8 860.0,258.8C868.6,259.4 878.9,261.0 883.5,262.8C888.1,264.6 884.9,269.6 887.5,269.6C890.1,269.3 893.0,262.9 899.2,260.8C905.4,258.7 916.5,258.2 924.7,256.9C932.9,255.6 936.8,254.2 948.3,253.0C959.8,251.8 982.0,250.0 993.4,250.0C1004.8,250.3 1009.0,254.6 1016.9,254.9C1024.8,254.9 1034.0,252.0 1040.5,252.0C1047.0,252.2 1050.3,255.7 1056.2,255.9C1062.1,255.9 1070.2,253.0 1075.8,253.0C1081.3,253.5 1084.9,258.8 1089.5,258.8C1094.1,258.3 1094.4,251.8 1103.2,250.0C1112.0,248.2 1130.1,248.4 1142.5,248.1C1154.9,248.1 1170.6,248.1 1177.8,248.1C1185.0,249.6 1183.0,254.4 1185.6,256.9C1188.2,259.3 1190.5,257.9 1193.5,262.8C1196.5,267.7 1200.0,286.3 1203.3,286.3C1206.6,286.3 1209.2,262.8 1213.1,262.8C1217.0,263.1 1222.2,288.3 1226.8,288.3C1231.4,288.0 1235.9,260.8 1240.5,260.8C1245.1,261.1 1251.0,285.7 1254.3,290.2C1257.5,290.2 1258.0,290.2 1260.0,288.0C1262.0,285.6 1264.0,279.0 1266.0,276.0C1268.0,273.0 1268.8,273.3 1272.3,269.9C1275.8,266.5 1280.2,258.8 1286.7,255.5C1293.2,252.2 1302.2,251.3 1311.4,250.3C1320.7,249.3 1333.0,249.5 1342.2,249.3C1351.5,249.3 1360.1,249.3 1366.9,249.3C1373.8,250.3 1377.1,255.3 1383.3,255.5C1389.5,255.5 1396.4,251.3 1403.9,250.3C1411.4,249.3 1423.4,249.3 1428.5,249.3C1433.6,251.2 1433.3,257.6 1434.7,261.7C1436.1,265.8 1435.7,272.3 1436.7,274.0C1437.7,274.0 1439.2,271.9 1440.8,271.9C1442.3,276.7 1443.9,300.4 1446.0,302.8C1448.1,302.8 1450.3,293.2 1453.2,286.3C1456.1,279.4 1459.7,266.8 1463.5,261.7C1467.3,256.6 1470.3,257.2 1475.8,255.5C1481.3,253.8 1487.7,252.3 1496.3,251.4C1504.9,250.5 1518.6,250.3 1527.2,250.3C1535.8,250.6 1543.9,252.0 1547.7,253.4C1551.5,254.8 1548.8,258.6 1549.8,258.6C1550.8,258.4 1548.1,253.6 1553.9,252.4C1559.7,251.4 1578.2,251.4 1584.7,251.4C1591.2,252.2 1590.5,254.8 1592.9,257.5C1595.3,260.2 1597.0,265.7 1599.1,267.8C1601.1,269.9 1602.8,267.8 1605.2,269.9C1607.6,273.7 1610.1,287.3 1613.5,290.4C1616.9,290.4 1622.0,289.8 1625.8,288.4C1629.6,287.0 1633.7,282.2 1636.1,282.2C1638.5,283.2 1637.8,294.5 1640.2,294.5C1642.6,292.1 1647.4,273.3 1650.5,267.8C1653.6,262.3 1656.0,261.7 1658.7,261.7C1661.4,263.4 1664.2,271.6 1666.9,278.1C1669.6,284.6 1671.7,296.6 1675.1,300.7C1678.5,302.8 1682.9,302.8 1687.5,302.8C1692.1,300.7 1697.6,293.5 1702.6,288.3C1707.6,283.1 1712.4,275.0 1717.3,271.5C1722.2,268.0 1727.5,269.4 1732.0,267.3C1736.5,265.2 1737.6,261.6 1744.6,258.8C1751.6,256.0 1764.3,252.0 1774.1,250.4C1783.9,249.4 1797.2,249.4 1803.5,249.4C1809.8,250.4 1809.8,252.7 1811.9,256.7C1814.0,260.7 1814.7,267.3 1816.1,273.6C1817.5,279.9 1818.2,290.8 1820.3,294.6C1822.4,296.7 1823.1,296.7 1828.7,296.7C1834.3,294.6 1846.5,286.6 1853.9,282.0C1861.3,277.4 1868.7,269.4 1872.9,269.4C1877.1,269.8 1876.1,284.1 1879.2,284.1C1882.3,284.1 1886.5,272.9 1891.8,269.4C1897.0,265.9 1903.7,265.0 1910.7,263.1C1917.7,261.2 1926.3,259.4 1933.8,257.8C1941.3,256.2 1951.4,253.6 1955.9,253.6C1960.5,257.6 1959.5,276.5 1961.1,281.9C1962.7,286.2 1963.9,286.2 1965.3,286.2C1966.7,283.8 1965.7,271.9 1969.5,267.3C1973.3,262.7 1978.9,260.7 1988.4,258.8C1997.9,256.9 2013.0,256.1 2026.3,255.7C2039.6,255.7 2056.8,256.7 2068.3,256.7C2079.9,256.3 2088.9,253.8 2095.6,253.6C2102.2,253.6 2104.7,253.6 2108.2,255.7C2111.7,259.0 2114.1,266.1 2116.6,273.6C2119.1,281.1 2121.1,296.0 2123.0,300.9C2124.9,303.0 2127.2,302.6 2128.0,303.0" fill="none" stroke="#808000" stroke-width="7" stroke-linejoin="round" stroke-linecap="round"/>
<rect x="254.7" y="117.6" width="1876.8" height="1381.9" fill="none" stroke="#000" stroke-width="7.5"/>
<line x1="254.7" y1="1499.5" x2="254.7" y2="1530" stroke="#000" stroke-width="7"/>
<text x="254.7" y="1603" text-anchor="middle" class="t">2200</text>
<line x1="359.0" y1="1499.5" x2="359.0" y2="1515" stroke="#000" stroke-width="7"/>
<line x1="463.2" y1="1499.5" x2="463.2" y2="1530" stroke="#000" stroke-width="7"/>
<text x="463.2" y="1603" text-anchor="middle" class="t">2000</text>
<line x1="567.5" y1="1499.5" x2="567.5" y2="1515" stroke="#000" stroke-width="7"/>
<line x1="671.8" y1="1499.5" x2="671.8" y2="1530" stroke="#000" stroke-width="7"/>
<text x="671.8" y="1603" text-anchor="middle" class="t">1800</text>
<line x1="776.0" y1="1499.5" x2="776.0" y2="1515" stroke="#000" stroke-width="7"/>
<line x1="880.3" y1="1499.5" x2="880.3" y2="1530" stroke="#000" stroke-width="7"/>
<text x="880.3" y="1603" text-anchor="middle" class="t">1600</text>
<line x1="984.6" y1="1499.5" x2="984.6" y2="1515" stroke="#000" stroke-width="7"/>
<line x1="1088.8" y1="1499.5" x2="1088.8" y2="1530" stroke="#000" stroke-width="7"/>
<text x="1088.8" y="1603" text-anchor="middle" class="t">1400</text>
<line x1="1193.1" y1="1499.5" x2="1193.1" y2="1515" stroke="#000" stroke-width="7"/>
<line x1="1297.4" y1="1499.5" x2="1297.4" y2="1530" stroke="#000" stroke-width="7"/>
<text x="1297.4" y="1603" text-anchor="middle" class="t">1200</text>
<line x1="1401.6" y1="1499.5" x2="1401.6" y2="1515" stroke="#000" stroke-width="7"/>
<line x1="1505.9" y1="1499.5" x2="1505.9" y2="1530" stroke="#000" stroke-width="7"/>
<text x="1505.9" y="1603" text-anchor="middle" class="t">1000</text>
<line x1="1610.2" y1="1499.5" x2="1610.2" y2="1515" stroke="#000" stroke-width="7"/>
<line x1="1714.4" y1="1499.5" x2="1714.4" y2="1530" stroke="#000" stroke-width="7"/>
<text x="1714.4" y="1603" text-anchor="middle" class="t">800</text>
<line x1="1818.7" y1="1499.5" x2="1818.7" y2="1515" stroke="#000" stroke-width="7"/>
<line x1="1923.0" y1="1499.5" x2="1923.0" y2="1530" stroke="#000" stroke-width="7"/>
<text x="1923.0" y="1603" text-anchor="middle" class="t">600</text>
<line x1="2027.2" y1="1499.5" x2="2027.2" y2="1515" stroke="#000" stroke-width="7"/>
<line x1="2131.5" y1="1499.5" x2="2131.5" y2="1530" stroke="#000" stroke-width="7"/>
<text x="2131.5" y="1603" text-anchor="middle" class="t">400</text>
<text x="0" y="234" fill="#808000" class="t" transform="matrix(1.0333,0,0,1,312.57,0)">MA</text>
<text x="0" y="369.5" fill="#000000" class="t" transform="matrix(1.0713,0,0,1,313.53,0)">PVDF</text>
<text x="0" y="510.5" fill="#ff0000" class="t" transform="matrix(1.0742,0,0,1,315.23,0)">PM6</text>
<text x="0" y="628.8" fill="#0000ff" class="t" transform="matrix(1.0428,0,0,1,320.36,0)">PG3</text>
<text x="0" y="732.5" fill="#008080" class="t" transform="matrix(1.0528,0,0,1,309.95,0)">PM6G3</text>
<text x="0" y="946.4" fill="#ff00ff" class="t" transform="matrix(1.0481,0,0,1,303.05,0)">PM14</text>
<text x="0" y="1063.9" fill="#000080" class="t" transform="matrix(1.0432,0,0,1,318.06,0)">PG7</text>
<text x="0" y="1181.4" fill="#ff0080" class="t" transform="matrix(1.0425,0,0,1,292.76,0)">PM14G7</text>
<text x="0" y="213" fill="#000000" class="t" transform="matrix(1.0650,0,0,1,476.81,0)">1854</text>
<text x="0" y="229.9" fill="#000000" class="t" transform="matrix(1.0455,0,0,1,684.33,0)">1774</text>
<text x="0" y="415.4" fill="#000000" class="t" transform="matrix(1.0650,0,0,1,1166.01,0)">1274</text>
<text x="0" y="425.5" fill="#000000" class="t" transform="matrix(1.0776,0,0,1,1631.37,0)">840</text>
<text x="0" y="416" fill="#000000" class="t" transform="matrix(1.0748,0,0,1,1974.68,0)">510</text>
<text x="0" y="1752" class="t" transform="matrix(1.0599,0,0,1,844.84,0)">Wavenumber (cm</text>
<text x="1453" y="1718.5" class="t" style="font-size:53px;font-weight:normal">&#8722;</text>
<text x="1476.7" y="1708" class="t" style="font-size:45px">1</text>
<text x="0" y="1752" class="t" transform="matrix(1.2,0,0,1,1495.10,0)">)</text>
<text transform="translate(122,1179) rotate(-90)" x="0" y="0" class="t" style="font-size:82px">Transmittance (a.u.)</text>
</svg>
</div></body></html>
